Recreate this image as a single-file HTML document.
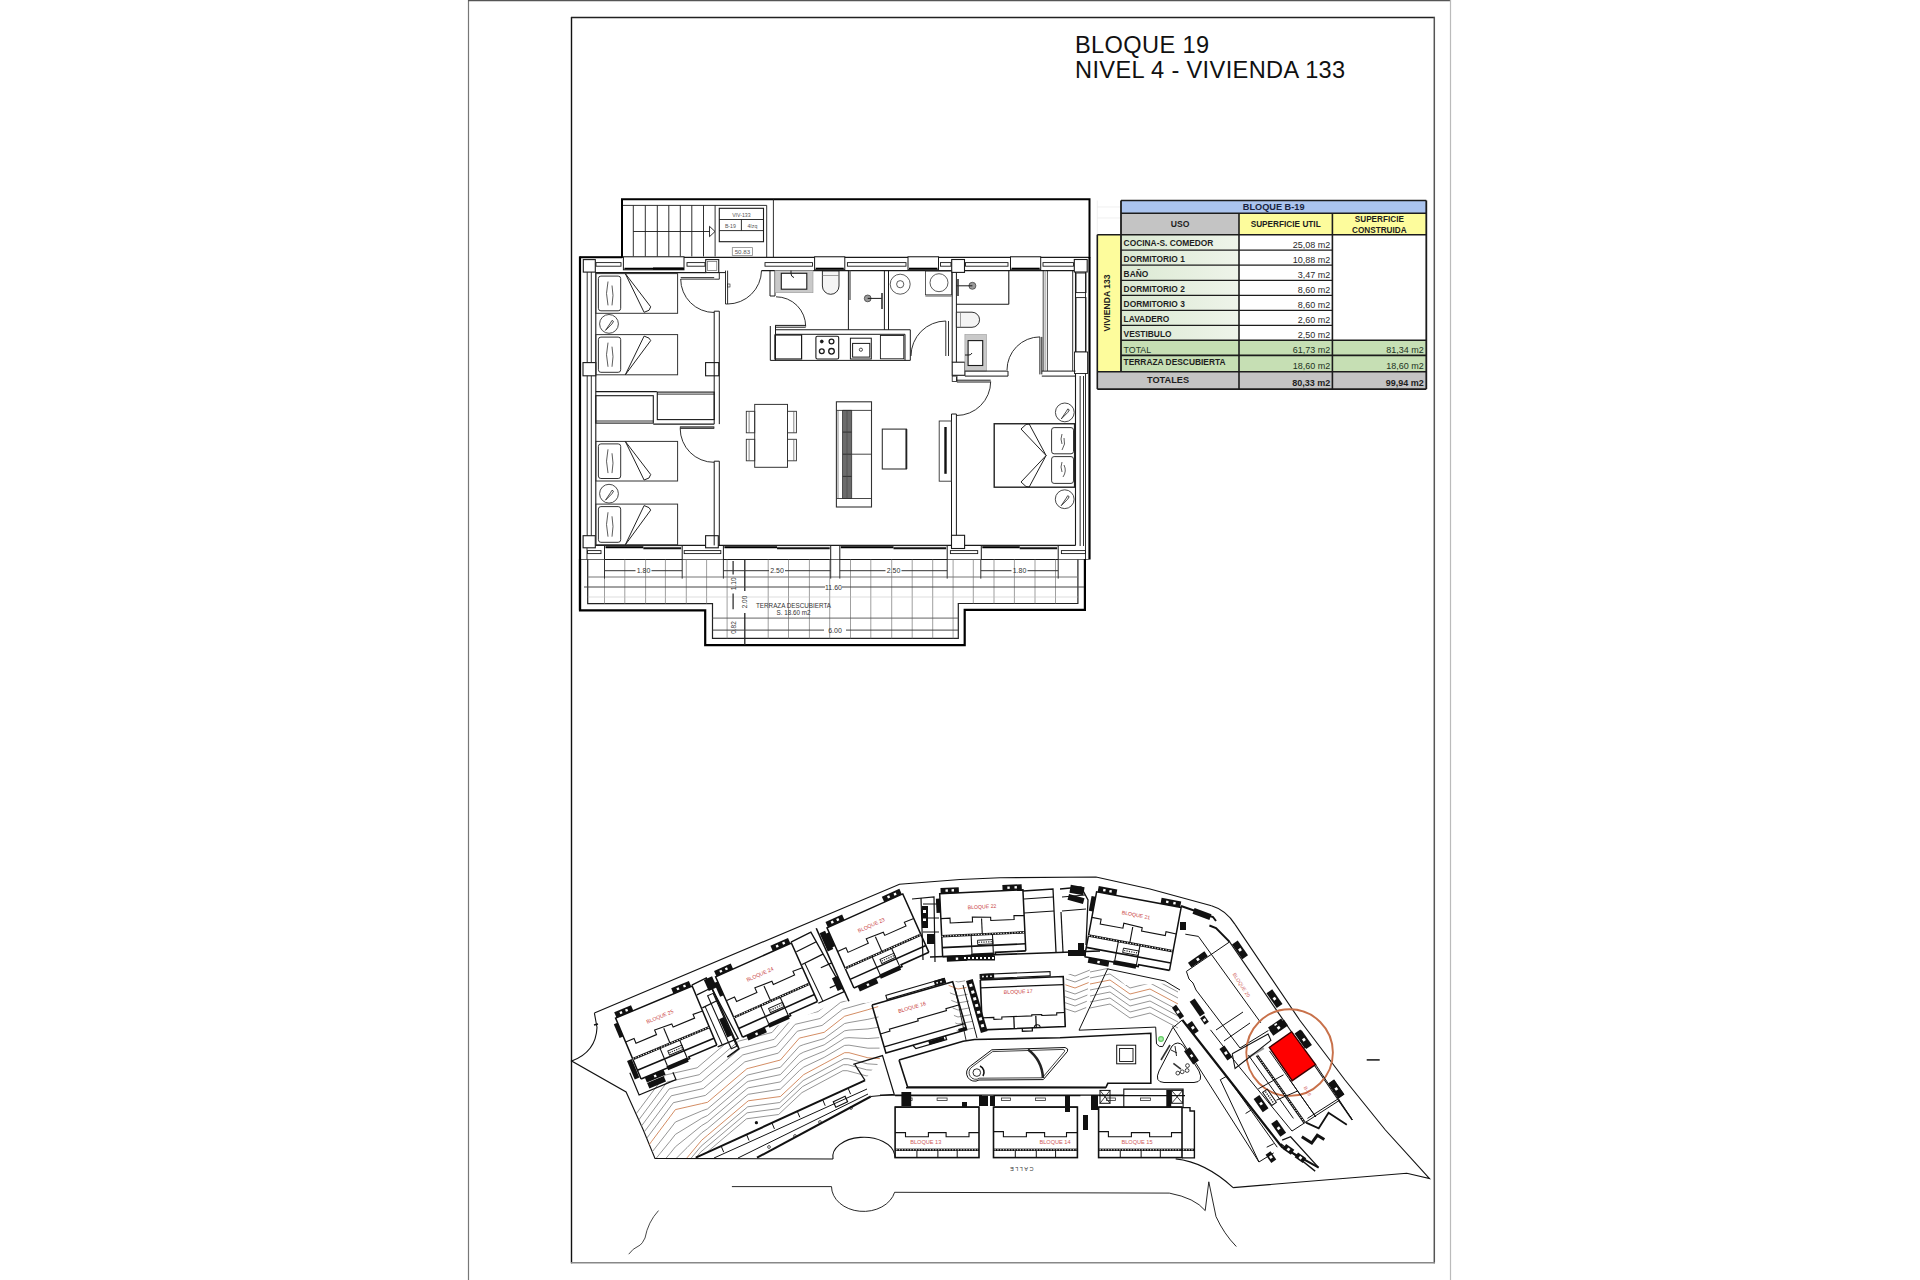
<!DOCTYPE html>
<html><head><meta charset="utf-8"><title>Bloque 19 - Vivienda 133</title>
<style>
html,body{margin:0;padding:0;background:#fff;}
body{width:1920px;height:1280px;overflow:hidden;position:relative;font-family:"Liberation Sans",sans-serif;}
svg{position:absolute;left:0;top:0;}
text{font-family:"Liberation Sans",sans-serif;}
</style></head><body>
<svg width="1920" height="1280" viewBox="0 0 1920 1280" stroke-linecap="butt">
<line x1="468.5" y1="0" x2="468.5" y2="1280" stroke="#777" stroke-width="1.2"/>
<line x1="468" y1="0.5" x2="1451" y2="0.5" stroke="#555" stroke-width="1.4"/>
<line x1="1450.5" y1="0" x2="1450.5" y2="1280" stroke="#bbb" stroke-width="1.2"/>
<line x1="571.5" y1="17" x2="571.5" y2="1263.3" stroke="#111" stroke-width="1.4"/>
<line x1="571" y1="17.5" x2="1435" y2="17.5" stroke="#222" stroke-width="1.4"/>
<line x1="1434.3" y1="17" x2="1434.3" y2="1263.3" stroke="#555" stroke-width="1.5"/>
<line x1="571" y1="1262.8" x2="1435" y2="1262.8" stroke="#888" stroke-width="1.5"/>
<text x="1075" y="52.8" font-size="23.6" fill="#111" textLength="134" lengthAdjust="spacing">BLOQUE 19</text>
<text x="1075" y="77.8" font-size="23.6" fill="#111" textLength="270.2" lengthAdjust="spacing">NIVEL 4 - VIVIENDA 133</text>
<polyline points="622,257.5 622,199.2 1089.5,199.2 1089.5,257.5" stroke="#000" stroke-width="2" fill="none"/>
<line x1="623" y1="205.4" x2="766.7" y2="205.4" stroke="#1a1a1a" stroke-width="0.9"/>
<line x1="766.7" y1="205.4" x2="766.7" y2="257" stroke="#1a1a1a" stroke-width="0.9"/>
<line x1="773.4" y1="199.2" x2="773.4" y2="257" stroke="#1a1a1a" stroke-width="0.9"/>
<line x1="633.3" y1="205.4" x2="633.3" y2="256.5" stroke="#1a1a1a" stroke-width="0.9"/>
<line x1="645.3" y1="205.4" x2="645.3" y2="256.5" stroke="#1a1a1a" stroke-width="0.9"/>
<line x1="657.3" y1="205.4" x2="657.3" y2="256.5" stroke="#1a1a1a" stroke-width="0.9"/>
<line x1="668.8" y1="205.4" x2="668.8" y2="256.5" stroke="#1a1a1a" stroke-width="0.9"/>
<line x1="680.3" y1="205.4" x2="680.3" y2="256.5" stroke="#1a1a1a" stroke-width="0.9"/>
<line x1="691.8" y1="205.4" x2="691.8" y2="256.5" stroke="#1a1a1a" stroke-width="0.9"/>
<line x1="703.5" y1="205.4" x2="703.5" y2="256.5" stroke="#1a1a1a" stroke-width="0.9"/>
<line x1="715.1" y1="205.4" x2="715.1" y2="256.5" stroke="#1a1a1a" stroke-width="0.9"/>
<line x1="633.3" y1="231.5" x2="709.5" y2="231.5" stroke="#1a1a1a" stroke-width="0.9"/>
<polygon points="709.5,226.3 715,231.5 709.5,236.7" stroke="#1a1a1a" stroke-width="0.9" fill="none"/>
<rect x="719.3" y="208.3" width="44.2" height="33.4" stroke="#1a1a1a" stroke-width="1.1" fill="none"/>
<line x1="719.3" y1="219.5" x2="763.5" y2="219.5" stroke="#1a1a1a" stroke-width="0.9"/>
<line x1="719.3" y1="230.6" x2="763.5" y2="230.6" stroke="#1a1a1a" stroke-width="0.9"/>
<line x1="741.4" y1="219.5" x2="741.4" y2="230.6" stroke="#1a1a1a" stroke-width="0.9"/>
<text x="741.4" y="216.5" font-size="5.2" text-anchor="middle" fill="#555">VIV-133</text>
<text x="730.4" y="227.5" font-size="5.2" text-anchor="middle" fill="#555">B-19</text>
<text x="752.4" y="227.5" font-size="5.2" text-anchor="middle" fill="#555">4Izq</text>
<rect x="732.3" y="247.6" width="20.3" height="7.8" stroke="#888" stroke-width="0.8" fill="none"/>
<text x="742.4" y="254" font-size="6.2" text-anchor="middle" fill="#555">50.83</text>
<line x1="579.5" y1="257.3" x2="1089.5" y2="257.3" stroke="#1a1a1a" stroke-width="1.3"/>
<line x1="579.5" y1="257.3" x2="622" y2="257.3" stroke="#000" stroke-width="2"/>
<line x1="580" y1="256.5" x2="580" y2="610.3" stroke="#000" stroke-width="2.2"/>
<line x1="595.8" y1="272" x2="595.8" y2="545.5" stroke="#1a1a1a" stroke-width="1.1"/>
<line x1="587.2" y1="272" x2="587.2" y2="536" stroke="#1a1a1a" stroke-width="0.9"/>
<line x1="591.3" y1="272" x2="591.3" y2="536" stroke="#1a1a1a" stroke-width="0.9"/>
<line x1="595.3" y1="272.6" x2="705.7" y2="272.6" stroke="#1a1a1a" stroke-width="1.2"/>
<line x1="718.8" y1="272.6" x2="725.5" y2="272.6" stroke="#1a1a1a" stroke-width="1.0"/>
<line x1="761.5" y1="270.6" x2="951.7" y2="270.6" stroke="#1a1a1a" stroke-width="1.2"/>
<line x1="964.5" y1="270.6" x2="1074.3" y2="270.6" stroke="#1a1a1a" stroke-width="1.2"/>
<line x1="1089.5" y1="257" x2="1089.5" y2="559.5" stroke="#000" stroke-width="2.2"/>
<line x1="1075.5" y1="272" x2="1075.5" y2="545.5" stroke="#1a1a1a" stroke-width="1.1"/>
<line x1="1080.2" y1="376" x2="1080.2" y2="546" stroke="#777" stroke-width="1.6"/>
<line x1="1083.5" y1="376" x2="1083.5" y2="546" stroke="#1a1a1a" stroke-width="0.9"/>
<line x1="1085.5" y1="272" x2="1085.5" y2="559" stroke="#1a1a1a" stroke-width="0.9"/>
<line x1="595.3" y1="545.4" x2="1075.5" y2="545.4" stroke="#1a1a1a" stroke-width="1.1"/>
<line x1="580" y1="559.5" x2="1089.5" y2="559.5" stroke="#666" stroke-width="1.0"/>
<rect x="583.3" y="259.6" width="12" height="12.5" stroke="#1a1a1a" stroke-width="1.1" fill="#fff"/>
<rect x="705.7" y="259.6" width="13.05" height="13" stroke="#1a1a1a" stroke-width="1.1" fill="#fff"/>
<rect x="951.7" y="259.5" width="12.8" height="12.9" stroke="#1a1a1a" stroke-width="1.1" fill="#fff"/>
<rect x="1074.3" y="259.5" width="12.9" height="12.5" stroke="#1a1a1a" stroke-width="1.1" fill="#fff"/>
<rect x="583" y="362.6" width="12.8" height="13.2" stroke="#1a1a1a" stroke-width="1.1" fill="#fff"/>
<rect x="705.6" y="362.6" width="13.2" height="13.2" stroke="#1a1a1a" stroke-width="1.1" fill="#fff"/>
<rect x="583.1" y="535.7" width="12.2" height="12.1" stroke="#1a1a1a" stroke-width="1.1" fill="#fff"/>
<rect x="705.6" y="535.7" width="12.7" height="12.1" stroke="#1a1a1a" stroke-width="1.1" fill="#fff"/>
<rect x="951.5" y="535.3" width="13.1" height="13.2" stroke="#1a1a1a" stroke-width="1.1" fill="#fff"/>
<rect x="952.2" y="362.2" width="12.7" height="13.1" stroke="#1a1a1a" stroke-width="1.1" fill="#fff"/>
<rect x="1076" y="273" width="10" height="19.6" stroke="#1a1a1a" stroke-width="0.9" fill="none"/>
<rect x="1076" y="297.6" width="10" height="54.4" stroke="#1a1a1a" stroke-width="0.9" fill="none"/>
<rect x="1074.5" y="352" width="13.1" height="21.5" stroke="#1a1a1a" stroke-width="0.9" fill="#fff"/>
<rect x="707.5" y="261.5" width="9.3" height="9.1" stroke="#666" stroke-width="0.7" fill="none"/>
<rect x="623.4" y="256.8" width="60.6" height="13" stroke="#1a1a1a" stroke-width="1.0" fill="#fff"/>
<line x1="624.4" y1="268.6" x2="683" y2="268.6" stroke="#000" stroke-width="1.8"/>
<rect x="814.6" y="256.8" width="30.2" height="13" stroke="#1a1a1a" stroke-width="1.0" fill="#fff"/>
<line x1="815.6" y1="268.6" x2="843.8" y2="268.6" stroke="#000" stroke-width="1.8"/>
<rect x="908" y="256.8" width="30.5" height="13" stroke="#1a1a1a" stroke-width="1.0" fill="#fff"/>
<line x1="909" y1="268.6" x2="937.5" y2="268.6" stroke="#000" stroke-width="1.8"/>
<rect x="1010.5" y="256.8" width="30.2" height="13" stroke="#1a1a1a" stroke-width="1.0" fill="#fff"/>
<line x1="1011.5" y1="268.6" x2="1039.7" y2="268.6" stroke="#000" stroke-width="1.8"/>
<line x1="653" y1="268.6" x2="684" y2="268.6" stroke="#000" stroke-width="2.2"/>
<rect x="596" y="262.6" width="25" height="3.6" stroke="#1a1a1a" stroke-width="0.9" fill="none"/>
<rect x="687" y="262.6" width="18" height="3.6" stroke="#1a1a1a" stroke-width="0.9" fill="none"/>
<rect x="765" y="262.6" width="47.5" height="3.6" stroke="#1a1a1a" stroke-width="0.9" fill="none"/>
<rect x="847.4" y="262.6" width="58.6" height="3.6" stroke="#1a1a1a" stroke-width="0.9" fill="none"/>
<rect x="940.5" y="262.6" width="10.5" height="3.6" stroke="#1a1a1a" stroke-width="0.9" fill="none"/>
<rect x="965.5" y="262.6" width="42.5" height="3.6" stroke="#1a1a1a" stroke-width="0.9" fill="none"/>
<rect x="1043" y="262.6" width="30.5" height="3.6" stroke="#1a1a1a" stroke-width="0.9" fill="none"/>
<rect x="604.5" y="545.6" width="77.7" height="13.9" stroke="#1a1a1a" stroke-width="1.0" fill="#fff"/>
<line x1="605.5" y1="547.3" x2="643.35" y2="547.3" stroke="#000" stroke-width="2.0"/>
<line x1="643.35" y1="548.3" x2="681.2" y2="548.3" stroke="#111" stroke-width="2.0"/>
<rect x="723.4" y="545.6" width="107.3" height="13.9" stroke="#1a1a1a" stroke-width="1.0" fill="#fff"/>
<line x1="724.4" y1="547.3" x2="777.05" y2="547.3" stroke="#000" stroke-width="2.0"/>
<line x1="777.05" y1="548.3" x2="829.7" y2="548.3" stroke="#111" stroke-width="2.0"/>
<rect x="839.8" y="545.6" width="107.4" height="13.9" stroke="#1a1a1a" stroke-width="1.0" fill="#fff"/>
<line x1="840.8" y1="547.3" x2="893.5" y2="547.3" stroke="#000" stroke-width="2.0"/>
<line x1="893.5" y1="548.3" x2="946.2" y2="548.3" stroke="#111" stroke-width="2.0"/>
<rect x="981.3" y="545.6" width="76.9" height="13.9" stroke="#1a1a1a" stroke-width="1.0" fill="#fff"/>
<line x1="982.3" y1="547.3" x2="1019.75" y2="547.3" stroke="#000" stroke-width="2.0"/>
<line x1="1019.75" y1="548.3" x2="1057.2" y2="548.3" stroke="#111" stroke-width="2.0"/>
<rect x="587.5" y="550.6" width="13.5" height="3" stroke="#1a1a1a" stroke-width="0.9" fill="none"/>
<rect x="684.2" y="550.6" width="36.6" height="3" stroke="#1a1a1a" stroke-width="0.9" fill="none"/>
<rect x="950.4" y="550.6" width="27.3" height="3" stroke="#1a1a1a" stroke-width="0.9" fill="none"/>
<rect x="1061.4" y="550.6" width="24.1" height="3" stroke="#1a1a1a" stroke-width="0.9" fill="none"/>
<line x1="587" y1="548" x2="587" y2="559.5" stroke="#1a1a1a" stroke-width="0.9"/>
<line x1="714.2" y1="311.2" x2="714.2" y2="424.1" stroke="#1a1a1a" stroke-width="1.0"/>
<line x1="719.3" y1="311.2" x2="719.3" y2="424.1" stroke="#1a1a1a" stroke-width="1.0"/>
<line x1="714.2" y1="311.2" x2="719.3" y2="311.2" stroke="#1a1a1a" stroke-width="1.0"/>
<line x1="714.2" y1="461.2" x2="714.2" y2="545.4" stroke="#1a1a1a" stroke-width="1.0"/>
<line x1="719.3" y1="461.2" x2="719.3" y2="545.4" stroke="#1a1a1a" stroke-width="1.0"/>
<line x1="714.2" y1="461.2" x2="719.3" y2="461.2" stroke="#1a1a1a" stroke-width="1.0"/>
<line x1="680.7" y1="277.7" x2="714.2" y2="277.7" stroke="#1a1a1a" stroke-width="1.0"/>
<line x1="680.7" y1="279.2" x2="714.2" y2="279.2" stroke="#1a1a1a" stroke-width="0.8"/>
<path d="M680.7,279 A33.5,33.5 0 0 0 714.2,312.5" stroke="#1a1a1a" stroke-width="0.9" fill="none"/>
<line x1="714.2" y1="279.2" x2="719.3" y2="279.2" stroke="#1a1a1a" stroke-width="0.9"/>
<line x1="719.3" y1="272.6" x2="719.3" y2="279.2" stroke="#1a1a1a" stroke-width="0.9"/>
<line x1="595.8" y1="391.6" x2="656.8" y2="391.6" stroke="#1a1a1a" stroke-width="1.1"/>
<rect x="595.8" y="395.7" width="57.5" height="27.4" stroke="#1a1a1a" stroke-width="1.1" fill="none"/>
<line x1="595.8" y1="421" x2="653.3" y2="421" stroke="#1a1a1a" stroke-width="0.9"/>
<rect x="657.3" y="392.1" width="56.9" height="27.5" stroke="#1a1a1a" stroke-width="1.1" fill="none"/>
<line x1="657.3" y1="394.1" x2="714.2" y2="394.1" stroke="#1a1a1a" stroke-width="0.9"/>
<line x1="656.8" y1="391.6" x2="656.8" y2="392.1" stroke="#1a1a1a" stroke-width="0.9"/>
<line x1="653.3" y1="424.1" x2="714.2" y2="424.1" stroke="#1a1a1a" stroke-width="1.1"/>
<rect x="680.2" y="426.8" width="33.8" height="1.8" stroke="#1a1a1a" stroke-width="0.7" fill="#777"/>
<path d="M680.2,428.5 A33.8,33.8 0 0 0 714,462.3" stroke="#1a1a1a" stroke-width="0.9" fill="none"/>
<line x1="725.5" y1="270.6" x2="725.5" y2="304" stroke="#1a1a1a" stroke-width="0.9"/>
<line x1="727.6" y1="270.6" x2="727.6" y2="304" stroke="#1a1a1a" stroke-width="0.9"/>
<line x1="725.5" y1="304" x2="727.6" y2="304" stroke="#1a1a1a" stroke-width="0.9"/>
<path d="M727.6,304 A34,34 0 0 0 761.5,270.6" stroke="#1a1a1a" stroke-width="0.9" fill="none"/>
<rect x="727.6" y="284" width="2.4" height="3" stroke="#1a1a1a" stroke-width="0.6" fill="none"/>
<line x1="770" y1="270.6" x2="770" y2="296" stroke="#1a1a1a" stroke-width="1.0"/>
<line x1="775" y1="270.6" x2="775" y2="296" stroke="#1a1a1a" stroke-width="1.0"/>
<line x1="770" y1="296" x2="775" y2="296" stroke="#1a1a1a" stroke-width="1.0"/>
<path d="M776,296.8 A29.7,29.7 0 0 1 805.7,326.5" stroke="#1a1a1a" stroke-width="0.9" fill="none"/>
<line x1="775" y1="325.4" x2="805.7" y2="325.4" stroke="#1a1a1a" stroke-width="1.0"/>
<line x1="775" y1="327.2" x2="805.7" y2="327.2" stroke="#1a1a1a" stroke-width="1.0"/>
<line x1="775" y1="329.8" x2="910.3" y2="329.8" stroke="#1a1a1a" stroke-width="1.1"/>
<line x1="775" y1="334.3" x2="905" y2="334.3" stroke="#1a1a1a" stroke-width="1.0"/>
<rect x="775" y="270.6" width="38" height="22.1" fill="#c9c9c9"/>
<rect x="775" y="270.6" width="38" height="22.1" stroke="#999" stroke-width="0.6" fill="none"/>
<rect x="781.3" y="273.3" width="25.5" height="15.9" stroke="#1a1a1a" stroke-width="1.1" fill="#fff"/>
<path d="M791,270.6 v3 q0,3 3,4" stroke="#1a1a1a" stroke-width="1.0" fill="none"/>
<path d="M822.4,271 V286 A8.3,8.3 0 0 0 839,286 V271 Z" stroke="#1a1a1a" stroke-width="0.9" fill="#f4f4f4"/>
<line x1="822.4" y1="275.5" x2="839" y2="275.5" stroke="#777" stroke-width="0.7"/>
<line x1="848.4" y1="270.6" x2="848.4" y2="329.8" stroke="#1a1a1a" stroke-width="1.0"/>
<line x1="850" y1="270.6" x2="850" y2="300" stroke="#555" stroke-width="1.3"/>
<circle cx="867.7" cy="298.4" r="3.4" stroke="#444" stroke-width="0.8" fill="#999"/>
<line x1="867.7" y1="298.4" x2="882" y2="298.4" stroke="#1a1a1a" stroke-width="1.0"/>
<line x1="882" y1="293" x2="882" y2="309" stroke="#333" stroke-width="1.6"/>
<line x1="884.4" y1="270.6" x2="884.4" y2="329.8" stroke="#1a1a1a" stroke-width="1.0"/>
<line x1="888.5" y1="270.6" x2="888.5" y2="329.8" stroke="#1a1a1a" stroke-width="1.0"/>
<circle cx="900.2" cy="284.2" r="10" stroke="#333" stroke-width="0.8" fill="none"/>
<circle cx="900.2" cy="284.2" r="3.6" stroke="#333" stroke-width="0.8" fill="none"/>
<rect x="925.4" y="271" width="26.3" height="23.8" stroke="#333" stroke-width="0.8" fill="none"/>
<circle cx="939" cy="282.7" r="9" stroke="#333" stroke-width="0.8" fill="none"/>
<line x1="925.4" y1="296" x2="951.7" y2="296" stroke="#555" stroke-width="1.0"/>
<line x1="945.8" y1="321" x2="945.8" y2="356" stroke="#1a1a1a" stroke-width="0.9"/>
<line x1="948.5" y1="321" x2="948.5" y2="356" stroke="#1a1a1a" stroke-width="0.9"/>
<path d="M945.8,321 A35,35 0 0 0 911,356" stroke="#1a1a1a" stroke-width="0.9" fill="none"/>
<line x1="910.3" y1="329.8" x2="910.3" y2="360.4" stroke="#1a1a1a" stroke-width="1.0"/>
<line x1="905" y1="334.3" x2="905" y2="360.4" stroke="#1a1a1a" stroke-width="1.0"/>
<line x1="952.2" y1="272.4" x2="952.2" y2="362.2" stroke="#1a1a1a" stroke-width="1.0"/>
<line x1="956.4" y1="272.4" x2="956.4" y2="362.2" stroke="#1a1a1a" stroke-width="1.0"/>
<circle cx="972.4" cy="285.8" r="3.5" stroke="#444" stroke-width="0.8" fill="#999"/>
<line x1="956.4" y1="285.8" x2="972.4" y2="285.8" stroke="#1a1a1a" stroke-width="1.0"/>
<line x1="958" y1="279" x2="958" y2="296" stroke="#333" stroke-width="1.6"/>
<line x1="1008.8" y1="271" x2="1008.8" y2="304.3" stroke="#1a1a1a" stroke-width="1.1"/>
<line x1="956.4" y1="304.3" x2="1008.8" y2="304.3" stroke="#1a1a1a" stroke-width="1.1"/>
<path d="M956.4,312.2 H972 A7.5,7.5 0 0 1 972,327.3 H956.4 Z" stroke="#1a1a1a" stroke-width="0.9" fill="#f4f4f4"/>
<line x1="960.5" y1="312.2" x2="960.5" y2="327.3" stroke="#777" stroke-width="0.7"/>
<rect x="964.9" y="334.5" width="21.5" height="36.6" fill="#c9c9c9"/>
<rect x="964.9" y="334.5" width="21.5" height="36.6" stroke="#999" stroke-width="0.6" fill="none"/>
<rect x="968.1" y="340.6" width="14.6" height="24.9" stroke="#1a1a1a" stroke-width="1.1" fill="#fff"/>
<path d="M965,355 h4 q2,0 3,-2" stroke="#1a1a1a" stroke-width="1.0" fill="none"/>
<line x1="964.9" y1="371.1" x2="1008" y2="371.1" stroke="#1a1a1a" stroke-width="1.0"/>
<line x1="964.9" y1="376.1" x2="1008" y2="376.1" stroke="#1a1a1a" stroke-width="1.0"/>
<line x1="1008" y1="371.1" x2="1008" y2="376.1" stroke="#1a1a1a" stroke-width="1.0"/>
<line x1="1039.9" y1="336.9" x2="1039.9" y2="374.4" stroke="#1a1a1a" stroke-width="1.0"/>
<line x1="1041.8" y1="336.9" x2="1041.8" y2="374.4" stroke="#1a1a1a" stroke-width="1.0"/>
<path d="M1039.9,336.9 A33,33 0 0 0 1007,370" stroke="#1a1a1a" stroke-width="0.9" fill="none"/>
<line x1="1041.8" y1="371.1" x2="1075.5" y2="371.1" stroke="#1a1a1a" stroke-width="1.0"/>
<line x1="1041.8" y1="376.1" x2="1075.5" y2="376.1" stroke="#1a1a1a" stroke-width="1.0"/>
<line x1="1043.2" y1="270.6" x2="1043.2" y2="371" stroke="#1a1a1a" stroke-width="0.8"/>
<line x1="1045.1" y1="270.6" x2="1045.1" y2="371" stroke="#777" stroke-width="0.8"/>
<line x1="1047.4" y1="270.6" x2="1047.4" y2="371" stroke="#1a1a1a" stroke-width="0.8"/>
<line x1="1072.7" y1="270.6" x2="1072.7" y2="371" stroke="#1a1a1a" stroke-width="0.9"/>
<line x1="956.5" y1="377" x2="956.5" y2="381" stroke="#1a1a1a" stroke-width="0.9"/>
<rect x="952.2" y="376.1" width="4.8" height="5.4" stroke="#1a1a1a" stroke-width="0.8" fill="none"/>
<line x1="956.9" y1="380.2" x2="990.7" y2="380.2" stroke="#1a1a1a" stroke-width="1.0"/>
<line x1="956.9" y1="382" x2="990.7" y2="382" stroke="#1a1a1a" stroke-width="1.0"/>
<path d="M990.7,381.5 A34.2,34.2 0 0 1 956.5,415.5" stroke="#1a1a1a" stroke-width="0.9" fill="none"/>
<line x1="951.5" y1="414" x2="951.5" y2="535.3" stroke="#1a1a1a" stroke-width="1.0"/>
<line x1="956.4" y1="414" x2="956.4" y2="535.3" stroke="#1a1a1a" stroke-width="1.0"/>
<line x1="951.5" y1="414" x2="956.4" y2="414" stroke="#1a1a1a" stroke-width="1.0"/>
<line x1="770.3" y1="326" x2="770.3" y2="360.4" stroke="#1a1a1a" stroke-width="1.0"/>
<line x1="775.5" y1="326" x2="775.5" y2="360.4" stroke="#1a1a1a" stroke-width="1.0"/>
<line x1="770.3" y1="360.4" x2="910.3" y2="360.4" stroke="#1a1a1a" stroke-width="1.0"/>
<rect x="774.9" y="335" width="26.7" height="24" stroke="#1a1a1a" stroke-width="1.2" fill="none"/>
<rect x="815.9" y="336.3" width="22.8" height="22.7" stroke="#1a1a1a" stroke-width="1.1" fill="none" rx="1.5"/>
<circle cx="821.8" cy="341.5" r="1.4" stroke="#1a1a1a" stroke-width="1" fill="#1a1a1a"/>
<circle cx="831.5" cy="341.5" r="2.4" stroke="#1a1a1a" stroke-width="1.3" fill="none"/>
<circle cx="821.8" cy="351.3" r="2.4" stroke="#1a1a1a" stroke-width="1.3" fill="none"/>
<circle cx="831.5" cy="351.3" r="2.8" stroke="#1a1a1a" stroke-width="1.3" fill="none"/>
<rect x="850.4" y="338.2" width="20.9" height="20.8" stroke="#1a1a1a" stroke-width="1.0" fill="none"/>
<rect x="852.6" y="343.4" width="17.2" height="13.7" stroke="#1a1a1a" stroke-width="1.0" fill="none"/>
<circle cx="860.9" cy="349.7" r="1.6" stroke="#1a1a1a" stroke-width="0.8" fill="none"/>
<rect x="880.4" y="335.5" width="23.4" height="23.3" stroke="#1a1a1a" stroke-width="0.9" fill="none"/>
<rect x="595.8" y="273.6" width="81.8" height="39.7" stroke="#333" stroke-width="1.0" fill="none"/>
<rect x="598.4" y="276.1" width="22.3" height="34.7" stroke="#333" stroke-width="1.0" fill="none" rx="2.5"/>
<path d="M608,281.54 q-3,11.91 0,23.82" stroke="#333" stroke-width="0.8" fill="none"/>
<path d="M612,285.51 q2,9.92 0,19.85" stroke="#333" stroke-width="0.8" fill="none"/>
<polyline points="625.3,273.6 650.7,306.8 649,310.3 644.1,312.3 625.3,273.6" stroke="#222" stroke-width="1.0" fill="none"/>
<rect x="595.8" y="334.6" width="81.8" height="40.2" stroke="#333" stroke-width="1.0" fill="none"/>
<rect x="598.4" y="337.1" width="22.3" height="35.2" stroke="#333" stroke-width="1.0" fill="none" rx="2.5"/>
<path d="M608,342.64 q-3,12.06 0,24.12" stroke="#333" stroke-width="0.8" fill="none"/>
<path d="M612,346.66 q2,10.05 0,20.1" stroke="#333" stroke-width="0.8" fill="none"/>
<polyline points="625.3,374.8 644.1,336.1 649,338.1 650.7,340.6 625.3,374.8" stroke="#222" stroke-width="1.0" fill="none"/>
<rect x="595.8" y="441.4" width="81.8" height="39.6" stroke="#333" stroke-width="1.0" fill="none"/>
<rect x="598.4" y="443.9" width="22.3" height="34.6" stroke="#333" stroke-width="1.0" fill="none" rx="2.5"/>
<path d="M608,449.32 q-3,11.88 0,23.76" stroke="#333" stroke-width="0.8" fill="none"/>
<path d="M612,453.28 q2,9.9 0,19.8" stroke="#333" stroke-width="0.8" fill="none"/>
<polyline points="625.3,441.4 650.7,474.5 649,478 644.1,480 625.3,441.4" stroke="#222" stroke-width="1.0" fill="none"/>
<rect x="595.8" y="504.1" width="81.8" height="40.7" stroke="#333" stroke-width="1.0" fill="none"/>
<rect x="598.4" y="506.6" width="22.3" height="35.7" stroke="#333" stroke-width="1.0" fill="none" rx="2.5"/>
<path d="M608,512.24 q-3,12.21 0,24.42" stroke="#333" stroke-width="0.8" fill="none"/>
<path d="M612,516.31 q2,10.17 0,20.35" stroke="#333" stroke-width="0.8" fill="none"/>
<polyline points="625.3,544.8 644.1,505.6 649,507.6 650.7,510.1 625.3,544.8" stroke="#222" stroke-width="1.0" fill="none"/>
<circle cx="609" cy="323.9" r="9.4" stroke="#333" stroke-width="0.9" fill="none"/>
<path d="M605.5,330.4 L610.5,322.9 l1.5,-2.5 l1.5,1 l-1.5,2.5 z" stroke="#333" stroke-width="0.9" fill="none"/>
<circle cx="609" cy="493.7" r="9.4" stroke="#333" stroke-width="0.9" fill="none"/>
<path d="M605.5,500.2 L610.5,492.7 l1.5,-2.5 l1.5,1 l-1.5,2.5 z" stroke="#333" stroke-width="0.9" fill="none"/>
<circle cx="1064.8" cy="412.4" r="9.4" stroke="#333" stroke-width="0.9" fill="none"/>
<path d="M1061.3,418.9 L1066.3,411.4 l1.5,-2.5 l1.5,1 l-1.5,2.5 z" stroke="#333" stroke-width="0.9" fill="none"/>
<circle cx="1064.7" cy="499.2" r="9.4" stroke="#333" stroke-width="0.9" fill="none"/>
<path d="M1061.2,505.7 L1066.2,498.2 l1.5,-2.5 l1.5,1 l-1.5,2.5 z" stroke="#333" stroke-width="0.9" fill="none"/>
<rect x="994.2" y="423.75" width="80.4" height="63.45" stroke="#222" stroke-width="1.4" fill="none"/>
<rect x="1051.6" y="427.6" width="21.9" height="26.2" stroke="#333" stroke-width="1.0" fill="none" rx="2.5"/>
<rect x="1051.6" y="456.6" width="21.9" height="26.8" stroke="#333" stroke-width="1.0" fill="none" rx="2.5"/>
<path d="M1062,434 q-2,5 0,10" stroke="#333" stroke-width="0.8" fill="none"/>
<path d="M1064,438 q2,6 -2,12" stroke="#333" stroke-width="0.8" fill="none"/>
<path d="M1062,462 q-2,5 0,10" stroke="#333" stroke-width="0.8" fill="none"/>
<path d="M1064,465 q3,6 -1,12" stroke="#333" stroke-width="0.8" fill="none"/>
<polyline points="1021,429 1026,424.5 1029.2,424 1046.1,455.5 1021,429" stroke="#222" stroke-width="1.0" fill="none"/>
<polyline points="1021,482 1026,486.5 1029.2,487 1046.1,455.5 1021,482" stroke="#222" stroke-width="1.0" fill="none"/>
<rect x="754.7" y="404.4" width="32.8" height="62.9" stroke="#333" stroke-width="1.0" fill="none"/>
<rect x="746.3" y="411.3" width="8.4" height="21.5" stroke="#333" stroke-width="0.9" fill="none"/>
<line x1="749.1" y1="411.3" x2="749.1" y2="432.8" stroke="#555" stroke-width="0.7"/>
<rect x="787.5" y="411.3" width="8.9" height="21.5" stroke="#333" stroke-width="0.9" fill="none"/>
<line x1="793.8" y1="411.3" x2="793.8" y2="432.8" stroke="#555" stroke-width="0.7"/>
<rect x="746.3" y="439.3" width="8.4" height="21.5" stroke="#333" stroke-width="0.9" fill="none"/>
<line x1="749.1" y1="439.3" x2="749.1" y2="460.8" stroke="#555" stroke-width="0.7"/>
<rect x="787.5" y="439.3" width="8.9" height="21.5" stroke="#333" stroke-width="0.9" fill="none"/>
<line x1="793.8" y1="439.3" x2="793.8" y2="460.8" stroke="#555" stroke-width="0.7"/>
<rect x="836.4" y="401.8" width="35.1" height="105.2" stroke="#333" stroke-width="1.1" fill="none"/>
<line x1="836.4" y1="410.4" x2="871.5" y2="410.4" stroke="#333" stroke-width="0.9"/>
<line x1="836.4" y1="498.5" x2="871.5" y2="498.5" stroke="#333" stroke-width="0.9"/>
<line x1="838" y1="410.4" x2="838" y2="498.5" stroke="#555" stroke-width="0.7"/>
<rect x="842.6" y="410.4" width="9.1" height="88.1" fill="#6b6b6b"/>
<line x1="842.6" y1="410.4" x2="851.7" y2="410.4" stroke="#222" stroke-width="0.8"/>
<line x1="842.6" y1="432.1" x2="851.7" y2="432.1" stroke="#222" stroke-width="0.8"/>
<line x1="842.6" y1="454.2" x2="851.7" y2="454.2" stroke="#222" stroke-width="0.8"/>
<line x1="842.6" y1="476.4" x2="851.7" y2="476.4" stroke="#222" stroke-width="0.8"/>
<line x1="842.6" y1="498.5" x2="851.7" y2="498.5" stroke="#222" stroke-width="0.8"/>
<line x1="847" y1="410.4" x2="847" y2="498.5" stroke="#444" stroke-width="0.6"/>
<rect x="842.6" y="410.4" width="9.1" height="88.1" stroke="#333" stroke-width="0.8" fill="none"/>
<line x1="851.7" y1="454.2" x2="871.5" y2="454.2" stroke="#333" stroke-width="0.9"/>
<rect x="882.3" y="429.1" width="24.1" height="39.9" stroke="#333" stroke-width="1.1" fill="none"/>
<line x1="906.4" y1="429.1" x2="906.4" y2="469" stroke="#222" stroke-width="1.8"/>
<rect x="939.2" y="421" width="12.1" height="60.2" stroke="#333" stroke-width="0.9" fill="none"/>
<line x1="945.5" y1="427" x2="945.5" y2="473.8" stroke="#111" stroke-width="2.4"/>
<polyline points="580,559 580,610.3 705.2,610.3 705.2,645.2 964.7,645.2 964.7,609.9 1084.9,609.9 1084.9,559" stroke="#000" stroke-width="2.2" fill="none"/>
<polyline points="587.7,559.5 587.7,603.7 712.5,603.7 712.5,638.4 958.3,638.4 958.3,603.5 1077.9,603.5 1077.9,559.5" stroke="#222" stroke-width="1.2" fill="none"/>
<line x1="604.5" y1="559.5" x2="604.5" y2="603.7" stroke="#777" stroke-width="0.7"/>
<line x1="624.8" y1="559.5" x2="624.8" y2="603.7" stroke="#777" stroke-width="0.7"/>
<line x1="645.6" y1="559.5" x2="645.6" y2="603.7" stroke="#777" stroke-width="0.7"/>
<line x1="665.4" y1="559.5" x2="665.4" y2="603.7" stroke="#777" stroke-width="0.7"/>
<line x1="686.3" y1="559.5" x2="686.3" y2="603.7" stroke="#777" stroke-width="0.7"/>
<line x1="706.6" y1="559.5" x2="706.6" y2="603.7" stroke="#777" stroke-width="0.7"/>
<line x1="727.1" y1="559.5" x2="727.1" y2="638.4" stroke="#777" stroke-width="0.7"/>
<line x1="768.2" y1="559.5" x2="768.2" y2="638.4" stroke="#777" stroke-width="0.7"/>
<line x1="788.5" y1="559.5" x2="788.5" y2="638.4" stroke="#777" stroke-width="0.7"/>
<line x1="809.4" y1="559.5" x2="809.4" y2="638.4" stroke="#777" stroke-width="0.7"/>
<line x1="829.7" y1="559.5" x2="829.7" y2="638.4" stroke="#777" stroke-width="0.7"/>
<line x1="850.5" y1="559.5" x2="850.5" y2="638.4" stroke="#777" stroke-width="0.7"/>
<line x1="870.8" y1="559.5" x2="870.8" y2="638.4" stroke="#777" stroke-width="0.7"/>
<line x1="891.7" y1="559.5" x2="891.7" y2="638.4" stroke="#777" stroke-width="0.7"/>
<line x1="912.2" y1="559.5" x2="912.2" y2="638.4" stroke="#777" stroke-width="0.7"/>
<line x1="932.7" y1="559.5" x2="932.7" y2="638.4" stroke="#777" stroke-width="0.7"/>
<line x1="953.1" y1="559.5" x2="953.1" y2="638.4" stroke="#777" stroke-width="0.7"/>
<line x1="973.3" y1="559.5" x2="973.3" y2="603.5" stroke="#777" stroke-width="0.7"/>
<line x1="994" y1="559.5" x2="994" y2="603.5" stroke="#777" stroke-width="0.7"/>
<line x1="1014.4" y1="559.5" x2="1014.4" y2="603.5" stroke="#777" stroke-width="0.7"/>
<line x1="1035" y1="559.5" x2="1035" y2="603.5" stroke="#777" stroke-width="0.7"/>
<line x1="1055.5" y1="559.5" x2="1055.5" y2="603.5" stroke="#777" stroke-width="0.7"/>
<line x1="587.7" y1="577" x2="1077.9" y2="577" stroke="#777" stroke-width="1.0"/>
<line x1="587.7" y1="597" x2="1077.9" y2="597" stroke="#bbb" stroke-width="0.5"/>
<line x1="712.5" y1="618.1" x2="958.3" y2="618.1" stroke="#555" stroke-width="0.9"/>
<line x1="744.8" y1="560" x2="744.8" y2="591" stroke="#222" stroke-width="1.3"/>
<line x1="744.8" y1="613" x2="744.8" y2="645" stroke="#222" stroke-width="1.3"/>
<line x1="733.1" y1="561" x2="733.1" y2="574.4" stroke="#222" stroke-width="1.2"/>
<line x1="733.1" y1="593.6" x2="733.1" y2="609.3" stroke="#222" stroke-width="1.2"/>
<line x1="584" y1="587" x2="825" y2="587" stroke="#444" stroke-width="1.0"/>
<line x1="842" y1="587" x2="1084" y2="587" stroke="#444" stroke-width="1.0"/>
<line x1="712.5" y1="630.1" x2="824" y2="630.1" stroke="#444" stroke-width="1.0"/>
<line x1="846" y1="630.1" x2="958" y2="630.1" stroke="#444" stroke-width="1.0"/>
<line x1="604.5" y1="570.7" x2="635.5" y2="570.7" stroke="#333" stroke-width="1.0"/>
<line x1="651.5" y1="570.7" x2="682.2" y2="570.7" stroke="#333" stroke-width="1.0"/>
<line x1="604.5" y1="560" x2="604.5" y2="578.6" stroke="#333" stroke-width="1.0"/>
<line x1="682.2" y1="560" x2="682.2" y2="578.6" stroke="#333" stroke-width="1.0"/>
<text x="643.5" y="573.2" font-size="7" text-anchor="middle" fill="#333">1.80</text>
<line x1="723.4" y1="570.7" x2="769" y2="570.7" stroke="#333" stroke-width="1.0"/>
<line x1="785" y1="570.7" x2="830.7" y2="570.7" stroke="#333" stroke-width="1.0"/>
<line x1="723.4" y1="560" x2="723.4" y2="578.6" stroke="#333" stroke-width="1.0"/>
<line x1="830.7" y1="560" x2="830.7" y2="578.6" stroke="#333" stroke-width="1.0"/>
<text x="777" y="573.2" font-size="7" text-anchor="middle" fill="#333">2.50</text>
<line x1="839.8" y1="570.7" x2="885.5" y2="570.7" stroke="#333" stroke-width="1.0"/>
<line x1="901.5" y1="570.7" x2="947.2" y2="570.7" stroke="#333" stroke-width="1.0"/>
<line x1="839.8" y1="560" x2="839.8" y2="578.6" stroke="#333" stroke-width="1.0"/>
<line x1="947.2" y1="560" x2="947.2" y2="578.6" stroke="#333" stroke-width="1.0"/>
<text x="893.5" y="573.2" font-size="7" text-anchor="middle" fill="#333">2.50</text>
<line x1="980.8" y1="570.7" x2="1011.5" y2="570.7" stroke="#333" stroke-width="1.0"/>
<line x1="1027.5" y1="570.7" x2="1058.2" y2="570.7" stroke="#333" stroke-width="1.0"/>
<line x1="980.8" y1="560" x2="980.8" y2="578.6" stroke="#333" stroke-width="1.0"/>
<line x1="1058.2" y1="560" x2="1058.2" y2="578.6" stroke="#333" stroke-width="1.0"/>
<text x="1019.5" y="573.2" font-size="7" text-anchor="middle" fill="#333">1.80</text>
<text x="833.5" y="589.5" font-size="7" text-anchor="middle" fill="#333">11.60</text>
<text x="835" y="632.6" font-size="7" text-anchor="middle" fill="#333">6.00</text>
<text x="736.2" y="583.8" font-size="6.5" text-anchor="middle" fill="#333" transform="rotate(-90 736.2 583.8)">1.10</text>
<text x="747.1" y="602" font-size="6.5" text-anchor="middle" fill="#333" transform="rotate(-90 747.1 602)">2.00</text>
<text x="736.2" y="627.5" font-size="6.5" text-anchor="middle" fill="#333" transform="rotate(-90 736.2 627.5)">0.82</text>
<text x="793.5" y="608" font-size="6.3" text-anchor="middle" fill="#333">TERRAZA DESCUBIERTA</text>
<text x="793.5" y="614.8" font-size="6.3" text-anchor="middle" fill="#333">S. 18.60 m2</text>
<line x1="1097.3" y1="207" x2="1121" y2="207" stroke="#e6e6e6" stroke-width="0.6"/>
<line x1="1097.3" y1="218" x2="1121" y2="218" stroke="#e6e6e6" stroke-width="0.6"/>
<line x1="1097.3" y1="200.5" x2="1097.3" y2="234.7" stroke="#e6e6e6" stroke-width="0.6"/>
<rect x="1121" y="200.5" width="305.3" height="12.7" fill="#abc4ee"/>
<rect x="1121" y="213.2" width="118" height="21.5" fill="#c4c4c4"/>
<rect x="1239" y="213.2" width="187.3" height="21.5" fill="#fdfc9c"/>
<rect x="1097.3" y="234.7" width="23.7" height="137.1" fill="#fdfc9c"/>
<defs><linearGradient id="gg" x1="0" x2="1" y1="0" y2="0"><stop offset="0" stop-color="#dbe9d2"/><stop offset="1" stop-color="#eef4ea"/></linearGradient></defs>
<rect x="1121" y="234.7" width="118" height="15.5" fill="url(#gg)"/>
<rect x="1121" y="250.2" width="118" height="15" fill="url(#gg)"/>
<rect x="1121" y="265.2" width="118" height="15.1" fill="url(#gg)"/>
<rect x="1121" y="280.3" width="118" height="15" fill="url(#gg)"/>
<rect x="1121" y="295.3" width="118" height="15.1" fill="url(#gg)"/>
<rect x="1121" y="310.4" width="118" height="14.9" fill="url(#gg)"/>
<rect x="1121" y="325.3" width="118" height="15" fill="url(#gg)"/>
<rect x="1121" y="340.3" width="305.3" height="31.5" fill="#c6dfb4"/>
<rect x="1097.3" y="371.8" width="329" height="17.3" fill="#c4c4c4"/>
<line x1="1121" y1="200.5" x2="1426.3" y2="200.5" stroke="#1c1c1c" stroke-width="1.6"/>
<line x1="1121" y1="213.2" x2="1426.3" y2="213.2" stroke="#1c1c1c" stroke-width="1.6"/>
<line x1="1097.3" y1="234.7" x2="1426.3" y2="234.7" stroke="#1c1c1c" stroke-width="1.6"/>
<line x1="1121" y1="250.2" x2="1332.4" y2="250.2" stroke="#1c1c1c" stroke-width="1.3"/>
<line x1="1121" y1="265.2" x2="1332.4" y2="265.2" stroke="#1c1c1c" stroke-width="1.3"/>
<line x1="1121" y1="280.3" x2="1332.4" y2="280.3" stroke="#1c1c1c" stroke-width="1.3"/>
<line x1="1121" y1="295.3" x2="1332.4" y2="295.3" stroke="#1c1c1c" stroke-width="1.3"/>
<line x1="1121" y1="310.4" x2="1332.4" y2="310.4" stroke="#1c1c1c" stroke-width="1.3"/>
<line x1="1121" y1="325.3" x2="1332.4" y2="325.3" stroke="#1c1c1c" stroke-width="1.3"/>
<line x1="1121" y1="340.3" x2="1426.3" y2="340.3" stroke="#1c1c1c" stroke-width="1.6"/>
<line x1="1121" y1="355.4" x2="1426.3" y2="355.4" stroke="#1c1c1c" stroke-width="1.6"/>
<line x1="1097.3" y1="371.8" x2="1426.3" y2="371.8" stroke="#1c1c1c" stroke-width="1.6"/>
<line x1="1097.3" y1="389.1" x2="1426.3" y2="389.1" stroke="#1c1c1c" stroke-width="1.6"/>
<line x1="1097.3" y1="234.7" x2="1097.3" y2="389.1" stroke="#1c1c1c" stroke-width="1.6"/>
<line x1="1121" y1="200.5" x2="1121" y2="371.8" stroke="#1c1c1c" stroke-width="1.8"/>
<line x1="1239" y1="213.2" x2="1239" y2="389.1" stroke="#1c1c1c" stroke-width="1.6"/>
<line x1="1332.4" y1="213.2" x2="1332.4" y2="389.1" stroke="#1c1c1c" stroke-width="1.6"/>
<line x1="1426.3" y1="200.5" x2="1426.3" y2="389.1" stroke="#1c1c1c" stroke-width="1.8"/>
<text x="1273.65" y="210.2" font-size="9.2" text-anchor="middle" fill="#1a2440" font-weight="bold">BLOQUE B-19</text>
<text x="1180" y="227.2" font-size="8.6" text-anchor="middle" fill="#1e1e1e" font-weight="bold">USO</text>
<text x="1285.7" y="227.2" font-size="8.2" text-anchor="middle" fill="#1e1e1e" font-weight="bold" textLength="70" lengthAdjust="spacingAndGlyphs">SUPERFICIE UTIL</text>
<text x="1379.35" y="221.5" font-size="8.2" text-anchor="middle" fill="#1e1e1e" font-weight="bold">SUPERFICIE</text>
<text x="1379.35" y="233.4" font-size="8.2" text-anchor="middle" fill="#1e1e1e" font-weight="bold">CONSTRUIDA</text>
<text x="1109.8" y="303" font-size="8.6" text-anchor="middle" fill="#1e1e1e" font-weight="bold" transform="rotate(-90 1109.8 303)">VIVIENDA 133</text>
<text x="1123.6" y="246.1" font-size="8.4" text-anchor="start" fill="#1e1e1e" font-weight="bold">COCINA-S. COMEDOR</text>
<text x="1330.2" y="247.5" font-size="9.0" text-anchor="end" fill="#2a2a2a">25,08 m2</text>
<text x="1123.6" y="261.6" font-size="8.4" text-anchor="start" fill="#1e1e1e" font-weight="bold">DORMITORIO 1</text>
<text x="1330.2" y="263" font-size="9.0" text-anchor="end" fill="#2a2a2a">10,88 m2</text>
<text x="1123.6" y="276.6" font-size="8.4" text-anchor="start" fill="#1e1e1e" font-weight="bold">BAÑO</text>
<text x="1330.2" y="278" font-size="9.0" text-anchor="end" fill="#2a2a2a">3,47 m2</text>
<text x="1123.6" y="291.7" font-size="8.4" text-anchor="start" fill="#1e1e1e" font-weight="bold">DORMITORIO 2</text>
<text x="1330.2" y="293.1" font-size="9.0" text-anchor="end" fill="#2a2a2a">8,60 m2</text>
<text x="1123.6" y="306.7" font-size="8.4" text-anchor="start" fill="#1e1e1e" font-weight="bold">DORMITORIO 3</text>
<text x="1330.2" y="308.1" font-size="9.0" text-anchor="end" fill="#2a2a2a">8,60 m2</text>
<text x="1123.6" y="321.8" font-size="8.4" text-anchor="start" fill="#1e1e1e" font-weight="bold">LAVADERO</text>
<text x="1330.2" y="323.2" font-size="9.0" text-anchor="end" fill="#2a2a2a">2,60 m2</text>
<text x="1123.6" y="336.7" font-size="8.4" text-anchor="start" fill="#1e1e1e" font-weight="bold">VESTIBULO</text>
<text x="1330.2" y="338.1" font-size="9.0" text-anchor="end" fill="#2a2a2a">2,50 m2</text>
<text x="1123.6" y="352.9" font-size="8.8" text-anchor="start" fill="#223322">TOTAL</text>
<text x="1330.2" y="353.1" font-size="9.0" text-anchor="end" fill="#223322">61,73 m2</text>
<text x="1423.8" y="353.1" font-size="9.0" text-anchor="end" fill="#223322">81,34 m2</text>
<text x="1123.6" y="365" font-size="8.4" text-anchor="start" fill="#1e1e1e" font-weight="bold">TERRAZA DESCUBIERTA</text>
<text x="1330.2" y="369.4" font-size="9.0" text-anchor="end" fill="#223322">18,60 m2</text>
<text x="1423.8" y="369.4" font-size="9.0" text-anchor="end" fill="#223322">18,60 m2</text>
<text x="1168" y="383.4" font-size="9.2" text-anchor="middle" fill="#1e1e1e" font-weight="bold">TOTALES</text>
<text x="1330.2" y="385.8" font-size="9.0" text-anchor="end" fill="#1e1e1e" font-weight="bold">80,33 m2</text>
<text x="1423.8" y="385.8" font-size="9.0" text-anchor="end" fill="#1e1e1e" font-weight="bold">99,94 m2</text>
<polyline points="594.4,1013.1 899.5,884.2 960,879.5 1000,877.8 1096,877 1150,889 1211.5,905.7" stroke="#111" stroke-width="1.1" fill="none"/>
<path d="M1211.5,905.7 Q1226,910 1235,924.4" stroke="#111" stroke-width="1.1" fill="none"/>
<polyline points="1235,924.4 1299.6,1020 1345,1080 1385.4,1130 1429.5,1178.6 1406.8,1173.3 1233.1,1187.6" stroke="#111" stroke-width="1.1" fill="none"/>
<path d="M1233.1,1187.6 Q1205,1162 1175.7,1158.9" stroke="#111" stroke-width="1.1" fill="none"/>
<path d="M594.4,1013.1 L597,1027.5 Q596,1052 571.7,1061 L626.1,1092 L643.3,1130 L655,1158.4 L833,1159" stroke="#111" stroke-width="1.1" fill="none"/>
<line x1="594" y1="1025" x2="598" y2="1024" stroke="#111" stroke-width="1.6"/>
<path d="M833,1159 A31,19.5 0 0 1 894.6,1154.5 L895.1,1157.6" stroke="#111" stroke-width="1.1" fill="none"/>
<path d="M731.9,1186.6 L831.5,1186.6 A32,25 0 0 0 894.6,1192.3 L1169.3,1193.1 Q1195,1198 1205.2,1210.6 L1208.8,1181.8 L1216,1216.6 Q1224,1234 1236.3,1246.5" stroke="#111" stroke-width="0.9" fill="none"/>
<path d="M658.5,1210.6 Q648,1222 645,1238 Q642,1244 640.2,1245 Q632,1249 628.7,1254.2" stroke="#333" stroke-width="0.9" fill="none"/>
<clipPath id="terr"><polygon points="626,1092 643,1130 655,1158 696,1158 865,1080 872,1070 880,1062 878,1000 866,1003 840,1000 815,1012 790,1022 760,1030 735,1040 712,1050 690,1060 660,1074 640,1083"/></clipPath>
<g clip-path="url(#terr)" fill="none">
<polyline points="589.65,1175.5 609.65,1149.3 641.05,1107.2 665.05,1075.1 697.15,1067.8 736.55,1034.25 770.05,1025.5 789.05,1003.6 813.85,997.8 834.25,981.75 857.55,975.2 889.65,965.5" stroke="#7a7a7a" stroke-width="0.8" fill="none"/>
<polyline points="591.72,1182.4 611.72,1156.2 643.12,1114.1 667.12,1082 699.22,1074.7 738.62,1041.15 772.12,1032.4 791.12,1010.5 815.92,1004.7 836.32,988.65 859.62,982.1 891.72,972.4" stroke="#7a7a7a" stroke-width="0.8" fill="none"/>
<polyline points="593.79,1189.3 613.79,1163.1 645.19,1121 669.19,1088.9 701.29,1081.6 740.69,1048.05 774.19,1039.3 793.19,1017.4 817.99,1011.6 838.39,995.55 861.69,989 893.79,979.3" stroke="#7a7a7a" stroke-width="0.8" fill="none"/>
<polyline points="595.86,1196.2 615.86,1170 647.26,1127.9 671.26,1095.8 703.36,1088.5 742.76,1054.95 776.26,1046.2 795.26,1024.3 820.06,1018.5 840.46,1002.45 863.76,995.9 895.86,986.2" stroke="#7a7a7a" stroke-width="0.8" fill="none"/>
<polyline points="597.93,1203.1 617.93,1176.9 649.33,1134.8 673.33,1102.7 705.43,1095.4 744.83,1061.85 778.33,1053.1 797.33,1031.2 822.13,1025.4 842.53,1009.35 865.83,1002.8 897.93,993.1" stroke="#7a7a7a" stroke-width="0.8" fill="none"/>
<polyline points="600,1210 620,1183.8 630,1170.39 640,1156.98 651.4,1141.7 660,1130.2 670,1116.82 675.4,1109.6 687.1,1106.94 690,1106.28 701.7,1103.62 707.5,1102.3 720,1091.66 735,1078.88 746.9,1068.75 748.3,1068.38 760,1065.33 770,1062.72 780.4,1060 790,1048.93 799.4,1038.1 803.75,1037.08 812,1035.15 824.2,1032.3 835,1023.8 844.6,1016.25 849,1015.01 856,1013.05 867.9,1009.7 880,1006.04 900,1000" stroke="#c8703c" stroke-width="0.8" fill="none"/>
<polyline points="600,1210 620,1189.04 630,1178.31 640,1167.59 651.4,1152.93 660,1141.89 670,1129.06 675.4,1122 687.1,1117.09 690,1115.87 701.7,1110.94 707.5,1108.9 720,1098.27 735,1085.52 746.9,1075.4 748.3,1074.87 760,1072.11 770,1069.75 780.4,1067.3 790,1056.65 799.4,1046.22 803.75,1044.59 812,1042.16 824.2,1038.57 835,1030.61 844.6,1023.54 849,1022.55 856,1021.35 867.9,1019.32 880,1016.56 900,1012" stroke="#7a7a7a" stroke-width="0.8" fill="none"/>
<polyline points="600,1210 620,1194.28 630,1186.24 640,1178.19 651.4,1164.16 660,1153.59 670,1141.29 675.4,1134.4 687.1,1127.24 690,1125.46 701.7,1118.25 707.5,1115.5 720,1104.88 735,1092.15 746.9,1082.04 748.3,1081.35 760,1078.89 770,1076.79 780.4,1074.6 790,1064.36 799.4,1054.33 803.75,1052.09 812,1049.16 824.2,1044.83 835,1037.42 844.6,1030.83 849,1030.09 856,1029.66 867.9,1028.94 880,1027.08 900,1024" stroke="#7a7a7a" stroke-width="0.8" fill="none"/>
<polyline points="600,1210 620,1199.52 630,1194.16 640,1188.79 651.4,1175.38 660,1165.28 670,1153.53 675.4,1146.79 687.1,1137.4 690,1135.05 701.7,1125.57 707.5,1122.1 720,1111.5 735,1098.78 746.9,1088.69 748.3,1087.83 760,1085.67 770,1083.82 780.4,1081.9 790,1072.07 799.4,1062.45 803.75,1059.59 812,1056.17 824.2,1051.1 835,1044.23 844.6,1038.12 849,1037.63 856,1037.97 867.9,1038.56 880,1037.6 900,1036" stroke="#7a7a7a" stroke-width="0.8" fill="none"/>
<polyline points="600,1210 620,1204.76 630,1202.08 640,1199.4 651.4,1186.61 660,1176.97 670,1165.76 675.4,1159.19 687.1,1147.55 690,1144.64 701.7,1132.88 707.5,1128.7 720,1118.11 735,1105.41 746.9,1095.34 748.3,1094.32 760,1092.45 770,1090.86 780.4,1089.2 790,1079.78 799.4,1070.56 803.75,1067.1 812,1063.17 824.2,1057.37 835,1051.04 844.6,1045.41 849,1045.16 856,1046.28 867.9,1048.18 880,1048.11 900,1048" stroke="#7a7a7a" stroke-width="0.8" fill="none"/>
<polyline points="600,1210 620,1210 630,1210 640,1210 651.4,1197.84 660,1188.67 670,1178 675.4,1171.59 687.1,1157.7 690,1154.22 701.7,1140.2 707.5,1135.3 720,1124.73 735,1112.05 746.9,1101.98 748.3,1100.8 760,1099.23 770,1097.89 780.4,1096.5 790,1087.5 799.4,1078.68 803.75,1074.6 812,1070.18 824.2,1063.64 835,1057.85 844.6,1052.7 849,1052.7 856,1054.59 867.9,1057.8 880,1058.63 900,1060" stroke="#c8703c" stroke-width="0.8" fill="none"/>
<polyline points="639.4,1216 669.4,1184 686.5,1163.7 701.1,1146.2 747.7,1106.8 779.8,1102.5 803.15,1080.6 844,1058.7 848.4,1058.7 867.3,1063.8 899.4,1066" stroke="#7a7a7a" stroke-width="0.8" fill="none"/>
<polyline points="638.8,1222 668.8,1190 685.9,1169.7 700.5,1152.2 747.1,1112.8 779.2,1108.5 802.55,1086.6 843.4,1064.7 847.8,1064.7 866.7,1069.8 898.8,1072" stroke="#7a7a7a" stroke-width="0.8" fill="none"/>
<polyline points="638.2,1228 668.2,1196 685.3,1175.7 699.9,1158.2 746.5,1118.8 778.6,1114.5 801.95,1092.6 842.8,1070.7 847.2,1070.7 866.1,1075.8 898.2,1078" stroke="#7a7a7a" stroke-width="0.8" fill="none"/>
</g>
<clipPath id="terr2"><polygon points="1088,962 1100,960 1125,985 1180,983 1180,1030 1150,1035 1120,1030 1090,1020"/></clipPath>
<g clip-path="url(#terr2)" fill="none">
<polyline points="1090,972 1110,968 1130,982 1150,977 1178,992" stroke="#7a7a7a" stroke-width="0.8" fill="none"/>
<polyline points="1090,978 1110,974 1130,988 1150,983 1178,998" stroke="#7a7a7a" stroke-width="0.8" fill="none"/>
<polyline points="1090,984 1110,980 1130,994 1150,989 1178,1004" stroke="#c8703c" stroke-width="0.8" fill="none"/>
<polyline points="1090,990 1110,986 1130,1000 1150,995 1178,1010" stroke="#7a7a7a" stroke-width="0.8" fill="none"/>
<polyline points="1090,996 1110,992 1130,1006 1150,1001 1178,1016" stroke="#7a7a7a" stroke-width="0.8" fill="none"/>
<polyline points="1090,1002 1110,998 1130,1012 1150,1007 1178,1022" stroke="#7a7a7a" stroke-width="0.8" fill="none"/>
<polyline points="1090,1008 1110,1004 1130,1018 1150,1013 1178,1028" stroke="#7a7a7a" stroke-width="0.8" fill="none"/>
</g>
<clipPath id="terr3"><polygon points="1066,975 1090,968 1085,1020 1063,1025"/></clipPath>
<g clip-path="url(#terr3)" fill="none">
<polyline points="1060,965 1075,970 1095,962" stroke="#7a7a7a" stroke-width="0.8" fill="none"/>
<polyline points="1060,971 1075,976 1095,968" stroke="#7a7a7a" stroke-width="0.8" fill="none"/>
<polyline points="1060,977 1075,982 1095,974" stroke="#7a7a7a" stroke-width="0.8" fill="none"/>
<polyline points="1060,983 1075,988 1095,980" stroke="#c8703c" stroke-width="0.8" fill="none"/>
<polyline points="1060,989 1075,994 1095,986" stroke="#7a7a7a" stroke-width="0.8" fill="none"/>
<polyline points="1060,995 1075,1000 1095,992" stroke="#7a7a7a" stroke-width="0.8" fill="none"/>
<polyline points="1060,1001 1075,1006 1095,998" stroke="#7a7a7a" stroke-width="0.8" fill="none"/>
<polyline points="1060,1007 1075,1012 1095,1004" stroke="#7a7a7a" stroke-width="0.8" fill="none"/>
</g>
<clipPath id="terr4"><polygon points="948,982 965,980 975,1035 958,1038"/></clipPath>
<g clip-path="url(#terr4)" fill="none">
<polyline points="940,975 958,982 980,978" stroke="#7a7a7a" stroke-width="0.8" fill="none"/>
<polyline points="940,982 958,989 980,985" stroke="#c8703c" stroke-width="0.8" fill="none"/>
<polyline points="940,989 958,996 980,992" stroke="#7a7a7a" stroke-width="0.8" fill="none"/>
<polyline points="940,996 958,1003 980,999" stroke="#7a7a7a" stroke-width="0.8" fill="none"/>
<polyline points="940,1003 958,1010 980,1006" stroke="#7a7a7a" stroke-width="0.8" fill="none"/>
<polyline points="940,1010 958,1017 980,1013" stroke="#7a7a7a" stroke-width="0.8" fill="none"/>
<polyline points="940,1017 958,1024 980,1020" stroke="#7a7a7a" stroke-width="0.8" fill="none"/>
<polyline points="940,1024 958,1031 980,1027" stroke="#7a7a7a" stroke-width="0.8" fill="none"/>
</g>
<g transform="translate(615.6,1018.1) rotate(-22.7)"><polyline points="0,66 0,0 83,0 83,64" stroke="#111" stroke-width="1.5" fill="none"/><polyline points="0,66 52.63,66 52.63,64 83,64" stroke="#111" stroke-width="1.6" fill="none"/><polyline points="0,26 9.11,26 9.11,31 31.38,31 31.38,26 49.6,27 49.6,30.5 72.88,30.5 72.88,26.5 83,27" stroke="#111" stroke-width="1.1" fill="none"/><polyline points="0,44.5 83,44.5" stroke="#111" stroke-width="2.4" fill="none"/><line x1="0" y1="44.5" x2="83" y2="44.5" stroke="#fff" stroke-width="1" stroke-dasharray="1.2 1.6"/><polyline points="0,56.5 83,56.5" stroke="#111" stroke-width="1.6" fill="none"/><polyline points="40.49,28 40.49,44" stroke="#111" stroke-width="1.1" fill="none"/><polyline points="29.35,44 29.35,64" stroke="#111" stroke-width="1.1" fill="none"/><polyline points="50.61,45 50.61,66" stroke="#111" stroke-width="1.1" fill="none"/><rect x="35.43" y="50.5" width="15.18" height="4.5" fill="none" stroke="#111" stroke-width="0.9"/><line x1="36.44" y1="52.7" x2="49.6" y2="52.7" stroke="#222" stroke-width="1.2" stroke-dasharray="1.2 1.2"/><rect x="1.01" y="-6" width="18.22" height="6" fill="#111" stroke="none" stroke-width="0"/><rect x="62.76" y="-6" width="19.23" height="6" fill="#111" stroke="none" stroke-width="0"/><rect x="5.89" y="-4.2" width="2.4" height="2.4" fill="#fff"/><rect x="11.96" y="-4.2" width="2.4" height="2.4" fill="#fff"/><rect x="67.63" y="-4.2" width="2.4" height="2.4" fill="#fff"/><rect x="74.71" y="-4.2" width="2.4" height="2.4" fill="#fff"/><rect x="4.05" y="66" width="20.24" height="5.5" fill="#111" stroke="none" stroke-width="0"/><rect x="28.34" y="64" width="22.27" height="4.5" fill="#111" stroke="none" stroke-width="0"/><rect x="12.97" y="67.5" width="2.4" height="2.4" fill="#fff"/><rect x="-4.05" y="5" width="4.05" height="15" fill="#111" stroke="none" stroke-width="0"/><polyline points="83,-1 99.2,-2 105.27,66 83,66" stroke="#111" stroke-width="1.3" fill="none"/><polyline points="84.01,10 100.21,9" stroke="#111" stroke-width="1.3" fill="none"/><polyline points="84.01,24 101.22,23" stroke="#111" stroke-width="1.3" fill="none"/><polyline points="87.05,24 88.06,66" stroke="#111" stroke-width="1.0" fill="none"/><text x="41.5" y="17.5" font-size="5.2" fill="#c83c3c" text-anchor="middle" >BLOQUE 25</text></g>
<g transform="translate(715.6,976.9) rotate(-24.1)"><polyline points="0,66 0,0 83,0 83,64" stroke="#111" stroke-width="1.5" fill="none"/><polyline points="0,66 52.63,66 52.63,64 83,64" stroke="#111" stroke-width="1.6" fill="none"/><polyline points="0,26 9.11,26 9.11,31 31.38,31 31.38,26 49.6,27 49.6,30.5 72.88,30.5 72.88,26.5 83,27" stroke="#111" stroke-width="1.1" fill="none"/><polyline points="0,44.5 83,44.5" stroke="#111" stroke-width="2.4" fill="none"/><line x1="0" y1="44.5" x2="83" y2="44.5" stroke="#fff" stroke-width="1" stroke-dasharray="1.2 1.6"/><polyline points="0,56.5 83,56.5" stroke="#111" stroke-width="1.6" fill="none"/><polyline points="40.49,28 40.49,44" stroke="#111" stroke-width="1.1" fill="none"/><polyline points="29.35,44 29.35,64" stroke="#111" stroke-width="1.1" fill="none"/><polyline points="50.61,45 50.61,66" stroke="#111" stroke-width="1.1" fill="none"/><rect x="35.43" y="50.5" width="15.18" height="4.5" fill="none" stroke="#111" stroke-width="0.9"/><line x1="36.44" y1="52.7" x2="49.6" y2="52.7" stroke="#222" stroke-width="1.2" stroke-dasharray="1.2 1.2"/><rect x="1.01" y="-6" width="18.22" height="6" fill="#111" stroke="none" stroke-width="0"/><rect x="62.76" y="-6" width="19.23" height="6" fill="#111" stroke="none" stroke-width="0"/><rect x="5.89" y="-4.2" width="2.4" height="2.4" fill="#fff"/><rect x="11.96" y="-4.2" width="2.4" height="2.4" fill="#fff"/><rect x="67.63" y="-4.2" width="2.4" height="2.4" fill="#fff"/><rect x="74.71" y="-4.2" width="2.4" height="2.4" fill="#fff"/><rect x="4.05" y="66" width="20.24" height="5.5" fill="#111" stroke="none" stroke-width="0"/><rect x="28.34" y="64" width="22.27" height="4.5" fill="#111" stroke="none" stroke-width="0"/><rect x="12.97" y="67.5" width="2.4" height="2.4" fill="#fff"/><rect x="-4.05" y="5" width="4.05" height="15" fill="#111" stroke="none" stroke-width="0"/><polyline points="83,-1 105.27,-2 111.34,66 83,66" stroke="#111" stroke-width="1.3" fill="none"/><polyline points="84.01,10 106.28,9" stroke="#111" stroke-width="1.3" fill="none"/><polyline points="84.01,24 107.29,23" stroke="#111" stroke-width="1.3" fill="none"/><polyline points="87.05,24 88.06,66" stroke="#111" stroke-width="1.0" fill="none"/><text x="41.5" y="17.5" font-size="5.2" fill="#c83c3c" text-anchor="middle" >BLOQUE 24</text></g>
<g transform="translate(827,927.8) rotate(-24.1)"><polyline points="0,66 0,0 83,0 83,64" stroke="#111" stroke-width="1.5" fill="none"/><polyline points="0,66 52.63,66 52.63,64 83,64" stroke="#111" stroke-width="1.6" fill="none"/><polyline points="0,26 9.11,26 9.11,31 31.38,31 31.38,26 49.6,27 49.6,30.5 72.88,30.5 72.88,26.5 83,27" stroke="#111" stroke-width="1.1" fill="none"/><polyline points="0,44.5 83,44.5" stroke="#111" stroke-width="2.4" fill="none"/><line x1="0" y1="44.5" x2="83" y2="44.5" stroke="#fff" stroke-width="1" stroke-dasharray="1.2 1.6"/><polyline points="0,56.5 83,56.5" stroke="#111" stroke-width="1.6" fill="none"/><polyline points="40.49,28 40.49,44" stroke="#111" stroke-width="1.1" fill="none"/><polyline points="29.35,44 29.35,64" stroke="#111" stroke-width="1.1" fill="none"/><polyline points="50.61,45 50.61,66" stroke="#111" stroke-width="1.1" fill="none"/><rect x="35.43" y="50.5" width="15.18" height="4.5" fill="none" stroke="#111" stroke-width="0.9"/><line x1="36.44" y1="52.7" x2="49.6" y2="52.7" stroke="#222" stroke-width="1.2" stroke-dasharray="1.2 1.2"/><rect x="1.01" y="-6" width="18.22" height="6" fill="#111" stroke="none" stroke-width="0"/><rect x="62.76" y="-6" width="19.23" height="6" fill="#111" stroke="none" stroke-width="0"/><rect x="5.89" y="-4.2" width="2.4" height="2.4" fill="#fff"/><rect x="11.96" y="-4.2" width="2.4" height="2.4" fill="#fff"/><rect x="67.63" y="-4.2" width="2.4" height="2.4" fill="#fff"/><rect x="74.71" y="-4.2" width="2.4" height="2.4" fill="#fff"/><rect x="4.05" y="66" width="20.24" height="5.5" fill="#111" stroke="none" stroke-width="0"/><rect x="28.34" y="64" width="22.27" height="4.5" fill="#111" stroke="none" stroke-width="0"/><rect x="12.97" y="67.5" width="2.4" height="2.4" fill="#fff"/><rect x="-4.05" y="5" width="4.05" height="15" fill="#111" stroke="none" stroke-width="0"/><text x="41.5" y="17.5" font-size="5.2" fill="#c83c3c" text-anchor="middle" >BLOQUE 23</text></g>
<g transform="translate(939.7,893.8) rotate(-2.7)"><polyline points="0,63 0,0 83.3,0 83.3,61.09" stroke="#111" stroke-width="1.5" fill="none"/><polyline points="0,63 52.82,63 52.82,61.09 83.3,61.09" stroke="#111" stroke-width="1.6" fill="none"/><polyline points="0,24.82 9.14,24.82 9.14,29.59 31.49,29.59 31.49,24.82 49.78,25.77 49.78,29.11 73.14,29.11 73.14,25.3 83.3,25.77" stroke="#111" stroke-width="1.1" fill="none"/><polyline points="0,42.48 83.3,42.48" stroke="#111" stroke-width="2.4" fill="none"/><line x1="0" y1="42.48" x2="83.3" y2="42.48" stroke="#fff" stroke-width="1" stroke-dasharray="1.2 1.6"/><polyline points="0,53.93 83.3,53.93" stroke="#111" stroke-width="1.6" fill="none"/><polyline points="40.63,26.73 40.63,42" stroke="#111" stroke-width="1.1" fill="none"/><polyline points="29.46,42 29.46,61.09" stroke="#111" stroke-width="1.1" fill="none"/><polyline points="50.79,42.95 50.79,63" stroke="#111" stroke-width="1.1" fill="none"/><rect x="35.55" y="48.2" width="15.24" height="4.3" fill="none" stroke="#111" stroke-width="0.9"/><line x1="36.57" y1="50.3" x2="49.78" y2="50.3" stroke="#222" stroke-width="1.2" stroke-dasharray="1.2 1.2"/><rect x="1.02" y="-5.73" width="18.29" height="5.73" fill="#111" stroke="none" stroke-width="0"/><rect x="62.98" y="-5.73" width="19.3" height="5.73" fill="#111" stroke="none" stroke-width="0"/><rect x="5.91" y="-4.06" width="2.4" height="2.4" fill="#fff"/><rect x="12.01" y="-4.06" width="2.4" height="2.4" fill="#fff"/><rect x="67.88" y="-4.06" width="2.4" height="2.4" fill="#fff"/><rect x="74.99" y="-4.06" width="2.4" height="2.4" fill="#fff"/><rect x="4.06" y="63" width="20.32" height="5.25" fill="#111" stroke="none" stroke-width="0"/><rect x="28.44" y="61.09" width="22.35" height="4.3" fill="#111" stroke="none" stroke-width="0"/><rect x="13.02" y="64.38" width="2.4" height="2.4" fill="#fff"/><rect x="-4.06" y="4.77" width="4.06" height="14.32" fill="#111" stroke="none" stroke-width="0"/><text x="41.65" y="16.7" font-size="5.2" fill="#c83c3c" text-anchor="middle" >BLOQUE 22</text></g>
<g transform="translate(1096.6,891.8) rotate(10.5)"><polyline points="0,66 0,0 86,0 86,64" stroke="#111" stroke-width="1.5" fill="none"/><polyline points="0,66 54.54,66 54.54,64 86,64" stroke="#111" stroke-width="1.6" fill="none"/><polyline points="0,26 9.44,26 9.44,31 32.51,31 32.51,26 51.39,27 51.39,30.5 75.51,30.5 75.51,26.5 86,27" stroke="#111" stroke-width="1.1" fill="none"/><polyline points="0,44.5 86,44.5" stroke="#111" stroke-width="2.4" fill="none"/><line x1="0" y1="44.5" x2="86" y2="44.5" stroke="#fff" stroke-width="1" stroke-dasharray="1.2 1.6"/><polyline points="0,56.5 86,56.5" stroke="#111" stroke-width="1.6" fill="none"/><polyline points="41.95,28 41.95,44" stroke="#111" stroke-width="1.1" fill="none"/><polyline points="30.41,44 30.41,64" stroke="#111" stroke-width="1.1" fill="none"/><polyline points="52.44,45 52.44,66" stroke="#111" stroke-width="1.1" fill="none"/><rect x="36.71" y="50.5" width="15.73" height="4.5" fill="none" stroke="#111" stroke-width="0.9"/><line x1="37.76" y1="52.7" x2="51.39" y2="52.7" stroke="#222" stroke-width="1.2" stroke-dasharray="1.2 1.2"/><rect x="1.05" y="-6" width="18.88" height="6" fill="#111" stroke="none" stroke-width="0"/><rect x="65.02" y="-6" width="19.93" height="6" fill="#111" stroke="none" stroke-width="0"/><rect x="6.14" y="-4.2" width="2.4" height="2.4" fill="#fff"/><rect x="12.43" y="-4.2" width="2.4" height="2.4" fill="#fff"/><rect x="70.12" y="-4.2" width="2.4" height="2.4" fill="#fff"/><rect x="77.46" y="-4.2" width="2.4" height="2.4" fill="#fff"/><rect x="4.2" y="66" width="20.98" height="5.5" fill="#111" stroke="none" stroke-width="0"/><rect x="29.37" y="64" width="23.07" height="4.5" fill="#111" stroke="none" stroke-width="0"/><rect x="13.48" y="67.5" width="2.4" height="2.4" fill="#fff"/><rect x="-4.2" y="5" width="4.2" height="15" fill="#111" stroke="none" stroke-width="0"/><text x="43" y="17.5" font-size="5.2" fill="#c83c3c" text-anchor="middle" >BLOQUE 21</text></g>
<g transform="translate(872,1005.1) rotate(-16.2)"><polyline points="0,0 84,0 84,50 0,50 0,0" stroke="#111" stroke-width="1.6" fill="none"/><polyline points="0,30 10,30 10,28 40,28 40,26 70,26 70,24 84,24" stroke="#111" stroke-width="1.1" fill="none"/><polyline points="0,43.6 84,43.6" stroke="#111" stroke-width="1.3" fill="none"/><polyline points="28,50 30,54 62,54 62,50" stroke="#111" stroke-width="1.3" fill="none"/><rect x="16" y="-5.5" width="61" height="4.3" fill="none" stroke="#111" stroke-width="1.1"/><rect x="66" y="-6" width="11" height="5.2" fill="#111" stroke="none" stroke-width="0"/><rect x="68" y="-4" width="1.6" height="1.6" fill="#fff" stroke="none" stroke-width="0"/><rect x="72" y="-4" width="1.6" height="1.6" fill="#fff" stroke="none" stroke-width="0"/><rect x="44" y="50.5" width="16" height="3.5" fill="#111"/><rect x="76" y="47" width="8" height="3" fill="#111"/><text x="37.8" y="15" font-size="5.2" fill="#c83c3c" text-anchor="middle">BLOQUE 16</text></g>
<g transform="translate(980.3,979.9) rotate(-2.3)"><polyline points="0,0 83,0 83,50 0,50 0,0" stroke="#111" stroke-width="1.6" fill="none"/><polyline points="0,38 12,38 12,40 20,40 20,38 50,38 50,37 60,37 60,38 75,38 75,36 83,36" stroke="#111" stroke-width="1.1" fill="none"/><polyline points="0,8 83,8" stroke="#111" stroke-width="1.3" fill="none"/><polyline points="32,38 32,50" stroke="#111" stroke-width="1.3" fill="none"/><polyline points="54,38 54,50" stroke="#111" stroke-width="1.3" fill="none"/><polyline points="40,50 40,53 50,53 50,50" stroke="#111" stroke-width="1.3" fill="none"/><rect x="0" y="-5.5" width="70" height="4.3" fill="none" stroke="#111" stroke-width="1.1"/><rect x="0" y="-6" width="14" height="5.2" fill="#111" stroke="none" stroke-width="0"/><rect x="2" y="-4" width="1.6" height="1.6" fill="#fff" stroke="none" stroke-width="0"/><rect x="6" y="-4" width="1.6" height="1.6" fill="#fff" stroke="none" stroke-width="0"/><rect x="10" y="-4" width="1.6" height="1.6" fill="#fff" stroke="none" stroke-width="0"/><path d="M52,50 a3,3 0 0 1 6,0" stroke="#111" stroke-width="1" fill="none"/><text x="37.35" y="15" font-size="5.2" fill="#c83c3c" text-anchor="middle">BLOQUE 17</text></g>
<g transform="translate(966,981) rotate(-16)"><rect x="0" y="0" width="7" height="54" fill="#111"/><rect x="2" y="4" width="3" height="3" fill="#fff"/><rect x="2" y="11" width="3" height="3" fill="#fff"/><rect x="2" y="18" width="3" height="3" fill="#fff"/><rect x="2" y="25" width="3" height="3" fill="#fff"/><rect x="2" y="32" width="3" height="3" fill="#fff"/><rect x="2" y="39" width="3" height="3" fill="#fff"/><rect x="2" y="46" width="3" height="3" fill="#fff"/></g>
<line x1="963" y1="985" x2="977" y2="1038" stroke="#111" stroke-width="1.0"/>
<line x1="955" y1="988" x2="966" y2="1040" stroke="#111" stroke-width="0.9"/>
<g transform="translate(715.6,976.9) rotate(-24.1)"><polyline points="-8,0 -8,75 -22,78" stroke="#111" stroke-width="1.6" fill="none"/></g>
<g transform="translate(715.6,976.9) rotate(-24.1)"><rect x="-12" y="-2" width="9" height="12" fill="#111" stroke="none" stroke-width="0"/></g>
<g transform="translate(715.6,976.9) rotate(-24.1)"><rect x="-14" y="40" width="5" height="20" fill="#111" stroke="none" stroke-width="0"/></g>
<g transform="translate(715.6,976.9) rotate(-24.1)"><rect x="-15" y="14" width="6" height="58" fill="none" stroke="#111" stroke-width="1.1"/></g>
<g transform="translate(615.6,1018.1) rotate(-22.7)"><polyline points="-8,56 -8,80 32,80 32,72" stroke="#111" stroke-width="1.2" fill="none"/></g>
<g transform="translate(615.6,1018.1) rotate(-22.7)"><rect x="4" y="72" width="18" height="6" fill="#111" stroke="none" stroke-width="0"/></g>
<g transform="translate(615.6,1018.1) rotate(-22.7)"><rect x="-6" y="44" width="5" height="20" fill="#111" stroke="none" stroke-width="0"/></g>
<g transform="translate(827,927.8) rotate(-24.1)"><polyline points="-10,-4 -10,76" stroke="#111" stroke-width="1.6" fill="none"/></g>
<g transform="translate(827,927.8) rotate(-24.1)"><polyline points="-22,34 -10,34" stroke="#111" stroke-width="1.2" fill="none"/></g>
<g transform="translate(827,927.8) rotate(-24.1)"><polyline points="-22,56 -10,56" stroke="#111" stroke-width="1.2" fill="none"/></g>
<g transform="translate(827,927.8) rotate(-24.1)"><rect x="-9" y="2" width="6" height="20" fill="#111" stroke="none" stroke-width="0"/></g>
<g transform="translate(827,927.8) rotate(-24.1)"><rect x="-16" y="48" width="6" height="14" fill="#111" stroke="none" stroke-width="0"/></g>
<g transform="translate(0,0) rotate(0)"><polyline points="912,899 934,897 935,962" stroke="#111" stroke-width="1.2" fill="none"/></g>
<g transform="translate(0,0) rotate(0)"><polyline points="921,898 923,960" stroke="#111" stroke-width="1.2" fill="none"/></g>
<rect x="922" y="906" width="6" height="22" fill="#111"/>
<rect x="923" y="910" width="3" height="3" fill="#fff"/><rect x="923" y="918" width="3" height="3" fill="#fff"/>
<rect x="927" y="934" width="8" height="10" fill="#111"/>
<line x1="923" y1="904" x2="939" y2="904" stroke="#111" stroke-width="1"/>
<line x1="923" y1="918" x2="939" y2="918" stroke="#111" stroke-width="1"/>
<line x1="923" y1="932" x2="939" y2="932" stroke="#111" stroke-width="1"/>
<polyline points="1023,891 1053,889 1056,952" stroke="#111" stroke-width="1.3" fill="none"/>
<line x1="1024" y1="899" x2="1053" y2="897" stroke="#111" stroke-width="1.2"/>
<line x1="1024" y1="913" x2="1054" y2="911" stroke="#111" stroke-width="1.2"/>
<polyline points="1060,889 1081,887 1088,900 1086,945" stroke="#111" stroke-width="1.3" fill="none"/>
<line x1="1062" y1="897" x2="1085" y2="895" stroke="#111" stroke-width="1.0"/>
<line x1="1062" y1="911" x2="1086" y2="909" stroke="#111" stroke-width="1.0"/>
<line x1="1061" y1="912" x2="1063" y2="952" stroke="#111" stroke-width="1.2"/>
<rect x="1070" y="886" width="14" height="8" fill="#111" transform="rotate(10 1077 890)"/>
<rect x="1068" y="896" width="16" height="6" fill="#111" transform="rotate(15 1076 899)"/>
<rect x="1078" y="943" width="6" height="10" fill="#111"/>
<line x1="930" y1="957" x2="1100" y2="951" stroke="#111" stroke-width="1.6"/>
<rect x="962" y="955.5" width="33" height="5" fill="#111"/>
<rect x="964" y="957" width="2" height="2" fill="#fff"/>
<rect x="968" y="957" width="2" height="2" fill="#fff"/>
<rect x="972" y="957" width="2" height="2" fill="#fff"/>
<rect x="976" y="957" width="2" height="2" fill="#fff"/>
<rect x="980" y="957" width="2" height="2" fill="#fff"/>
<rect x="984" y="957" width="2" height="2" fill="#fff"/>
<rect x="988" y="957" width="2" height="2" fill="#fff"/>
<rect x="992" y="957" width="2" height="2" fill="#fff"/>
<rect x="1068" y="950" width="18" height="6" fill="#111"/>
<line x1="1229.6" y1="941.9" x2="1352" y2="1120" stroke="#111" stroke-width="1.1"/>
<polyline points="1185.3,934.2 1198.4,936.4 1260.8,1022.8" stroke="#111" stroke-width="1.0" fill="none"/>
<polyline points="1209.4,925.5 1216,928 1229.6,941.9" stroke="#111" stroke-width="2.0" fill="none"/>
<polyline points="1229.6,941.9 1186.4,971.4 1189,979 1193,983 1196,990 1240,1048 1268.4,1030.5" stroke="#111" stroke-width="1.0" fill="none"/>
<line x1="1216" y1="1030" x2="1243" y2="1012" stroke="#111" stroke-width="1.0"/>
<line x1="1224" y1="1041" x2="1250" y2="1023" stroke="#111" stroke-width="1.0"/>
<g transform="translate(1240,949.8) rotate(55.2)"><rect x="-9" y="-3.5" width="18" height="7" fill="#111"/><rect x="-1.4" y="-1.4" width="2.8" height="2.8" fill="#fff"/></g>
<g transform="translate(1274.5,998.7) rotate(55.2)"><rect x="-9" y="-3.5" width="18" height="7" fill="#111"/><rect x="-1.4" y="-1.4" width="2.8" height="2.8" fill="#fff"/></g>
<g transform="translate(1197.9,959.4) rotate(-34.8)"><rect x="-10" y="-3" width="20" height="6" fill="#111"/><rect x="-1.4" y="-1.4" width="2.8" height="2.8" fill="#fff"/></g>
<g transform="translate(1197.3,1007.5) rotate(55.2)"><rect x="-9" y="-3" width="18" height="6" fill="#111"/></g>
<g transform="translate(1204.5,1020) rotate(55.2)"><rect x="-4" y="-2.5" width="8" height="5" fill="#111"/><rect x="-1.4" y="-1.4" width="2.8" height="2.8" fill="#fff"/></g>
<g transform="translate(1336.4,1089) rotate(55.2)"><rect x="-9" y="-3.5" width="18" height="7" fill="#111"/><rect x="-1.4" y="-1.4" width="2.8" height="2.8" fill="#fff"/></g>
<g transform="translate(1302.6,1039) rotate(55.2)"><rect x="-9" y="-3.5" width="18" height="7" fill="#111"/><rect x="-1.4" y="-1.4" width="2.8" height="2.8" fill="#fff"/></g>
<g transform="translate(1276,1025) rotate(-34.8)"><rect x="-8" y="-2.5" width="16" height="5" fill="#111"/><rect x="-1.4" y="-1.4" width="2.8" height="2.8" fill="#fff"/></g>
<g transform="translate(1178,1012) rotate(55.2)"><rect x="-7" y="-2.5" width="14" height="5" fill="#111"/><rect x="-1.4" y="-1.4" width="2.8" height="2.8" fill="#fff"/></g>
<polygon points="1291.7,1031.8 1315.6,1064.6 1292.2,1080.7 1269.3,1047.4" stroke="#3a0000" stroke-width="1.4" fill="#ff0000"/>
<circle cx="1289.6" cy="1052.6" r="43.3" stroke="#c8714a" stroke-width="1.9" fill="none"/>
<line x1="1366.7" y1="1059.9" x2="1379.7" y2="1059.9" stroke="#222" stroke-width="1.6"/>
<text x="1306" y="1092" font-size="4.8" fill="#c83c3c" text-anchor="middle" opacity="0.8" transform="rotate(60 1306 1092)">B-19</text>
<text x="1240" y="986" font-size="5" fill="#c83c3c" text-anchor="middle" opacity="0.85" transform="rotate(57 1240 986)">BLOQUE 20</text>
<line x1="1256.85" y1="1055.15" x2="1304.65" y2="1122.63" stroke="#111" stroke-width="2.6"/>
<line x1="1256.85" y1="1055.15" x2="1304.65" y2="1122.63" stroke="#fff" stroke-width="1" stroke-dasharray="1.3 1.5"/>
<polyline points="1248.41,1057.26 1263.88,1048.12" stroke="#999" stroke-width="2.2" fill="none"/>
<polyline points="1232.24,1053.74 1268.09,1034.06 1270.91,1040.39 1235.06,1068.5 1232.24,1053.74" stroke="#111" stroke-width="1.1" fill="none"/>
<polyline points="1239.98,1067.8 1291.99,1131.06" stroke="#111" stroke-width="1.0" fill="none"/>
<polyline points="1248.41,1055.15 1293.4,1118.41" stroke="#111" stroke-width="1.0" fill="none"/>
<polyline points="1269.5,1050.93 1315.89,1117.01" stroke="#111" stroke-width="1.0" fill="none"/>
<polyline points="1289.18,1079.05 1315.89,1117.01" stroke="#111" stroke-width="1.0" fill="none"/>
<polyline points="1315.89,1064.99 1352.45,1119.82" stroke="#111" stroke-width="1.0" fill="none"/>
<polyline points="1258.25,1088.89 1283.56,1074.83" stroke="#111" stroke-width="1.0" fill="none"/>
<polyline points="1276.53,1100.13 1297.62,1091" stroke="#111" stroke-width="1.0" fill="none"/>
<polyline points="1291.99,1131.06 1339.79,1100.13" stroke="#111" stroke-width="1.0" fill="none"/>
<polyline points="1307.46,1118.41 1338.39,1098.73" stroke="#111" stroke-width="1.0" fill="none"/>
<polyline points="1306.05,1122.63 1318.71,1128.25 1328.55,1112.79 1346.82,1124.74" stroke="#111" stroke-width="1.8" fill="none"/>
<polyline points="1338.39,1100.13 1352.45,1119.82" stroke="#111" stroke-width="1.0" fill="none"/>
<g transform="translate(1269.5,1097.32) rotate(55.2)"><rect x="-8" y="-2.8" width="16" height="5.6" fill="none" stroke="#111" stroke-width="1"/><line x1="-7" y1="0" x2="7" y2="0" stroke="#111" stroke-width="1.4" stroke-dasharray="1.2 1.2"/></g>
<polyline points="1182.34,1020 1279.34,1143.72 1282.15,1147.23 1318.71,1167.62" stroke="#111" stroke-width="2.2" fill="none"/>
<polyline points="1282.15,1140.2 1290.59,1136.69 1318,1166.91" stroke="#111" stroke-width="1.3" fill="none"/>
<polyline points="1280.75,1143.72 1315.19,1171.13" stroke="#111" stroke-width="1.3" fill="none"/>
<polyline points="1172.49,1026.33 1258.96,1161.99 1273.72,1152.86" stroke="#111" stroke-width="1.0" fill="none"/>
<polyline points="1220.29,1079.75 1226.62,1076.24 1277.23,1147.23" stroke="#111" stroke-width="1.0" fill="none"/>
<polyline points="1220.29,1079.75 1258.96,1161.99" stroke="#111" stroke-width="1.0" fill="none"/>
<polyline points="1245.6,1113.49 1251.22,1109.98" stroke="#111" stroke-width="1.0" fill="none"/>
<polyline points="1266.69,1147.23 1273.72,1143.72" stroke="#111" stroke-width="1.0" fill="none"/>
<polyline points="1210.45,1029.84 1239.98,1067.8" stroke="#111" stroke-width="1.0" fill="none"/>
<g transform="translate(1278.64,1027.73) rotate(-34.8)"><rect x="-9" y="-3.5" width="18" height="7" fill="#111"/><rect x="-1.4" y="-1.4" width="2.8" height="2.8" fill="#fff"/></g>
<g transform="translate(1303.94,1039.68) rotate(55.2)"><rect x="-9" y="-3.5" width="18" height="7" fill="#111"/><rect x="-1.4" y="-1.4" width="2.8" height="2.8" fill="#fff"/></g>
<g transform="translate(1336.28,1088.89) rotate(55.2)"><rect x="-9" y="-3.5" width="18" height="7" fill="#111"/><rect x="-1.4" y="-1.4" width="2.8" height="2.8" fill="#fff"/></g>
<g transform="translate(1261.06,1103.65) rotate(55.2)"><rect x="-8" y="-3.5" width="16" height="7" fill="#111"/><rect x="-1.4" y="-1.4" width="2.8" height="2.8" fill="#fff"/></g>
<g transform="translate(1278.64,1128.25) rotate(55.2)"><rect x="-8" y="-3.5" width="16" height="7" fill="#111"/><rect x="-1.4" y="-1.4" width="2.8" height="2.8" fill="#fff"/></g>
<g transform="translate(1270.91,1157.07) rotate(55.2)"><rect x="-5" y="-3" width="10" height="6" fill="#111"/><rect x="-1.4" y="-1.4" width="2.8" height="2.8" fill="#fff"/></g>
<g transform="translate(1288.48,1149.34) rotate(35)"><rect x="-5" y="-3" width="10" height="6" fill="#111"/><rect x="-1.4" y="-1.4" width="2.8" height="2.8" fill="#fff"/></g>
<g transform="translate(1300.43,1157.78) rotate(35)"><rect x="-5" y="-3" width="10" height="6" fill="#111"/><rect x="-1.4" y="-1.4" width="2.8" height="2.8" fill="#fff"/></g>
<g transform="translate(1191.47,1055.85) rotate(55.2)"><rect x="-8" y="-3.5" width="16" height="7" fill="#111"/><rect x="-1.4" y="-1.4" width="2.8" height="2.8" fill="#fff"/></g>
<g transform="translate(1192.88,1027.73) rotate(55.2)"><rect x="-6" y="-3" width="12" height="6" fill="#111"/><rect x="-1.4" y="-1.4" width="2.8" height="2.8" fill="#fff"/></g>
<g transform="translate(1225.92,1053.04) rotate(55.2)"><rect x="-7" y="-3" width="14" height="6" fill="#111"/><rect x="-1.4" y="-1.4" width="2.8" height="2.8" fill="#fff"/></g>
<polyline points="1301.83,1136.69 1311.68,1143.01 1317.3,1135.28 1324.33,1139.5" stroke="#111" stroke-width="3.0" fill="none"/>
<polyline points="1181,906 1213,917 1216,921" stroke="#111" stroke-width="2" fill="none"/>
<rect x="1193" y="911" width="18" height="6" fill="#111" transform="rotate(20 1202 914)"/>
<rect x="1180" y="922" width="6" height="8" fill="#111"/>
<polyline points="899,1060.1 907.6,1087 1106,1087.3 1107.8,1083.3 1150.8,1083.3 1150.8,1033.3 1060,1037.7 974.6,1039.5 963.1,1041.2 899,1060.1" stroke="#111" stroke-width="1.6" fill="none"/>
<line x1="906" y1="1087.8" x2="1106" y2="1087.8" stroke="#111" stroke-width="1.4"/>
<path d="M991.8,1049.8 L1065.1,1047.5 Q1069,1048.5 1067.4,1051.5 L1043.3,1079.6 L979,1080 A8,8 0 0 1 970.5,1066 Z" stroke="#111" stroke-width="1.0" fill="none"/>
<path d="M992.6,1051.6 L1063,1049.4 Q1065.5,1050 1064.5,1051.5 L1042.3,1077.8 L979.5,1078.2 A6.2,6.2 0 0 1 972,1067 Z" stroke="#111" stroke-width="0.8" fill="none"/>
<path d="M1028,1049.5 Q1042,1060 1043,1078" stroke="#222" stroke-width="2.6" fill="none"/>
<circle cx="976.8" cy="1072.6" r="3.8" stroke="#111" stroke-width="0.9" fill="none"/>
<path d="M980,1066 A7,7 0 0 1 983,1076" stroke="#111" stroke-width="1.6" fill="none"/>
<rect x="1116.7" y="1045.2" width="19" height="18.6" stroke="#111" stroke-width="1.0" fill="none"/>
<rect x="1119.6" y="1048.5" width="13.4" height="13" stroke="#111" stroke-width="0.9" fill="none"/>
<polyline points="1107.6,968.9 1079,1030.2 1155.7,1027.1 1156.5,1043.9" stroke="#111" stroke-width="1.0" fill="none"/>
<polyline points="1107.6,968.9 1165,981 1180,990" stroke="#111" stroke-width="1.0" fill="none"/>
<path d="M1156.5,1043.9 Q1159,1047.5 1162.7,1046.6 L1172.5,1028 L1182.2,1020" stroke="#111" stroke-width="1.0" fill="none"/>
<circle cx="1161" cy="1039" r="2.4" stroke="#6c6" stroke-width="1.2" fill="#aea"/>
<path d="M1172,1046 Q1177.8,1040 1183.5,1046 L1199,1071 Q1204,1082 1194,1082.5 L1164,1082.5 Q1154,1082 1159,1071 Z" stroke="#111" stroke-width="1.0" fill="none"/>
<path d="M1161,1060 L1170,1045" stroke="#333" stroke-width="1.6" fill="none"/>
<circle cx="1177.8" cy="1073.1" r="1.9" stroke="#111" stroke-width="0.8" fill="none"/>
<circle cx="1182.2" cy="1071.8" r="1.9" stroke="#111" stroke-width="0.8" fill="none"/>
<circle cx="1187.1" cy="1070.5" r="1.9" stroke="#111" stroke-width="0.8" fill="none"/>
<circle cx="1187.5" cy="1065.6" r="1.9" stroke="#111" stroke-width="0.8" fill="none"/>
<line x1="1173.4" y1="1063.4" x2="1180.9" y2="1069.2" stroke="#333" stroke-width="1.6"/>
<polyline points="1175,1046 1176.5,1056" stroke="#111" stroke-width="0.9" fill="none"/>
<polyline points="1171,1050 1177,1053" stroke="#111" stroke-width="0.9" fill="none"/>
<line x1="695.8" y1="1157.7" x2="865" y2="1080.4" stroke="#111" stroke-width="2.0"/>
<line x1="714" y1="1158" x2="867" y2="1089" stroke="#111" stroke-width="1.0"/>
<line x1="757" y1="1157.7" x2="870.8" y2="1096.5" stroke="#111" stroke-width="2.0"/>
<line x1="738" y1="1158" x2="868" y2="1094" stroke="#111" stroke-width="1.0"/>
<line x1="721.18" y1="1146.11" x2="723.68" y2="1152.11" stroke="#111" stroke-width="1.0"/>
<line x1="746.56" y1="1134.51" x2="749.06" y2="1140.51" stroke="#111" stroke-width="1.0"/>
<line x1="771.94" y1="1122.91" x2="774.44" y2="1128.91" stroke="#111" stroke-width="1.0"/>
<line x1="797.32" y1="1111.32" x2="799.82" y2="1117.32" stroke="#111" stroke-width="1.0"/>
<line x1="822.7" y1="1099.73" x2="825.2" y2="1105.73" stroke="#111" stroke-width="1.0"/>
<line x1="848.08" y1="1088.13" x2="850.58" y2="1094.13" stroke="#111" stroke-width="1.0"/>
<polyline points="854.8,1064.4 865,1080.4" stroke="#111" stroke-width="1.2" fill="none"/>
<polyline points="853.3,1064.4 882.5,1055.6 894.2,1094.3 870.8,1096.5" stroke="#111" stroke-width="1.2" fill="none"/>
<rect x="834" y="1099" width="13" height="6" fill="none" stroke="#111" stroke-width="1.2" transform="rotate(-25 840 1102)"/>
<circle cx="756.4" cy="1122.7" r="1.6" stroke="#111" stroke-width="0" fill="#111"/>
<circle cx="769" cy="1147" r="1.4" stroke="#111" stroke-width="0.7" fill="none"/>
<circle cx="795" cy="1136" r="1.4" stroke="#111" stroke-width="0.7" fill="none"/>
<circle cx="820" cy="1122" r="1.4" stroke="#111" stroke-width="0.7" fill="none"/>
<circle cx="851" cy="1108" r="1.4" stroke="#111" stroke-width="0.7" fill="none"/>
<rect x="895.1" y="1107.1" width="83.9" height="50.5" stroke="#111" stroke-width="1.6" fill="none"/>
<line x1="895.1" y1="1095.6" x2="982" y2="1095.6" stroke="#111" stroke-width="1.2"/>
<line x1="895.1" y1="1107.1" x2="979" y2="1107.1" stroke="#111" stroke-width="1.4"/>
<polyline points="895.1,1132.6 905.5,1132.6 905.5,1136.8 928.4,1136.8 928.4,1132.6 946.1,1132.6 946.1,1136.8 969,1136.8 969,1132.6 979,1132.6" stroke="#111" stroke-width="1.1" fill="none"/>
<rect x="895.1" y="1148.6" width="83.9" height="2.4" fill="#111"/>
<line x1="896.1" y1="1149.8" x2="978" y2="1149.8" stroke="#fff" stroke-width="1" stroke-dasharray="1.3 1.5"/>
<line x1="916.91" y1="1151" x2="916.91" y2="1157.6" stroke="#111" stroke-width="1.0"/>
<line x1="937.89" y1="1151" x2="937.89" y2="1157.6" stroke="#111" stroke-width="1.0"/>
<line x1="957.19" y1="1151" x2="957.19" y2="1157.6" stroke="#111" stroke-width="1.0"/>
<text x="925.8" y="1143.5" font-size="5.6" text-anchor="middle" fill="#c83c3c" opacity="0.85">BLOQUE 13</text>
<rect x="903.1" y="1098" width="9" height="2.5" stroke="#333" stroke-width="0.8" fill="none"/>
<rect x="937.1" y="1098" width="10" height="2.5" stroke="#333" stroke-width="0.8" fill="none"/>
<rect x="993.5" y="1107.1" width="83.9" height="50.5" stroke="#111" stroke-width="1.6" fill="none"/>
<line x1="993.5" y1="1095.6" x2="1080.4" y2="1095.6" stroke="#111" stroke-width="1.2"/>
<line x1="993.5" y1="1107.1" x2="1077.4" y2="1107.1" stroke="#111" stroke-width="1.4"/>
<polyline points="993.5,1131.6 1003.4,1131.6 1003.4,1136.8 1026.4,1136.8 1026.4,1132.6 1044.6,1132.6 1044.6,1136.8 1066.5,1136.8 1066.5,1132.6 1077.4,1132.6" stroke="#111" stroke-width="1.1" fill="none"/>
<rect x="993.5" y="1148.6" width="83.9" height="2.4" fill="#111"/>
<line x1="994.5" y1="1149.8" x2="1076.4" y2="1149.8" stroke="#fff" stroke-width="1" stroke-dasharray="1.3 1.5"/>
<line x1="1015.31" y1="1151" x2="1015.31" y2="1157.6" stroke="#111" stroke-width="1.0"/>
<line x1="1036.29" y1="1151" x2="1036.29" y2="1157.6" stroke="#111" stroke-width="1.0"/>
<line x1="1055.59" y1="1151" x2="1055.59" y2="1157.6" stroke="#111" stroke-width="1.0"/>
<text x="1055" y="1143.5" font-size="5.6" text-anchor="middle" fill="#c83c3c" opacity="0.85">BLOQUE 14</text>
<rect x="1001.5" y="1098" width="9" height="2.5" stroke="#333" stroke-width="0.8" fill="none"/>
<rect x="1035.5" y="1098" width="10" height="2.5" stroke="#333" stroke-width="0.8" fill="none"/>
<rect x="1098.6" y="1107.1" width="83.4" height="50.5" stroke="#111" stroke-width="1.6" fill="none"/>
<line x1="1098.6" y1="1095.6" x2="1185" y2="1095.6" stroke="#111" stroke-width="1.2"/>
<line x1="1098.6" y1="1107.1" x2="1182" y2="1107.1" stroke="#111" stroke-width="1.4"/>
<polyline points="1098.6,1131.6 1108.4,1131.6 1108.4,1136.8 1131.4,1136.8 1131.4,1132.6 1149.6,1132.6 1149.6,1136.8 1171.5,1136.8 1171.5,1132.6 1182,1132.6" stroke="#111" stroke-width="1.1" fill="none"/>
<rect x="1098.6" y="1148.6" width="83.4" height="2.4" fill="#111"/>
<line x1="1099.6" y1="1149.8" x2="1181" y2="1149.8" stroke="#fff" stroke-width="1" stroke-dasharray="1.3 1.5"/>
<line x1="1120.28" y1="1151" x2="1120.28" y2="1157.6" stroke="#111" stroke-width="1.0"/>
<line x1="1141.13" y1="1151" x2="1141.13" y2="1157.6" stroke="#111" stroke-width="1.0"/>
<line x1="1160.32" y1="1151" x2="1160.32" y2="1157.6" stroke="#111" stroke-width="1.0"/>
<text x="1137" y="1143.5" font-size="5.6" text-anchor="middle" fill="#c83c3c" opacity="0.85">BLOQUE 15</text>
<rect x="1106.6" y="1098" width="9" height="2.5" stroke="#333" stroke-width="0.8" fill="none"/>
<rect x="1140.6" y="1098" width="10" height="2.5" stroke="#333" stroke-width="0.8" fill="none"/>
<polyline points="1182,1107.6 1190,1107.6 1190,1111 1194.4,1111 1194.4,1157.9 1182,1157.9" stroke="#111" stroke-width="1.4" fill="none"/>
<rect x="1182" y="1148.6" width="12.4" height="2.4" fill="#111"/>
<line x1="1183" y1="1149.8" x2="1193.4" y2="1149.8" stroke="#fff" stroke-width="1" stroke-dasharray="1.3 1.5"/>
<rect x="901.4" y="1092" width="9.8" height="14" fill="#111"/>
<rect x="962" y="1102" width="5" height="5" fill="#111"/>
<rect x="979" y="1096" width="9" height="10" fill="#111"/>
<rect x="990" y="1096" width="5" height="10" fill="#111"/>
<rect x="1065" y="1096" width="5" height="16" fill="#111"/>
<rect x="1091" y="1095" width="7" height="15" fill="#111"/>
<rect x="1166.3" y="1090" width="4.9" height="17" fill="#111"/>
<rect x="1083" y="1115" width="5" height="15" fill="#111"/>
<rect x="1171.6" y="1090.4" width="11.1" height="12.9" stroke="#111" stroke-width="1.0" fill="none"/>
<line x1="1171.6" y1="1090.4" x2="1182.7" y2="1103.3" stroke="#111" stroke-width="0.8"/>
<line x1="1182.7" y1="1090.4" x2="1171.6" y2="1103.3" stroke="#111" stroke-width="0.8"/>
<rect x="1100" y="1090.4" width="10" height="12.9" stroke="#111" stroke-width="1.0" fill="none"/>
<line x1="1100" y1="1090.4" x2="1110" y2="1103.3" stroke="#111" stroke-width="0.8"/>
<line x1="1110" y1="1090.4" x2="1100" y2="1103.3" stroke="#111" stroke-width="0.8"/>
<polyline points="1123.8,1107 1123.8,1089.1 1183.1,1089.1 1183.1,1107" stroke="#111" stroke-width="1.1" fill="none"/>
<line x1="880" y1="1095.1" x2="1123.8" y2="1095.1" stroke="#111" stroke-width="1.2"/>
<text x="1021" y="1166.5" font-size="5.5" text-anchor="middle" fill="#333" transform="rotate(180 1021 1166.5)" letter-spacing="1.5">CALLE</text>
</svg>
</body></html>
